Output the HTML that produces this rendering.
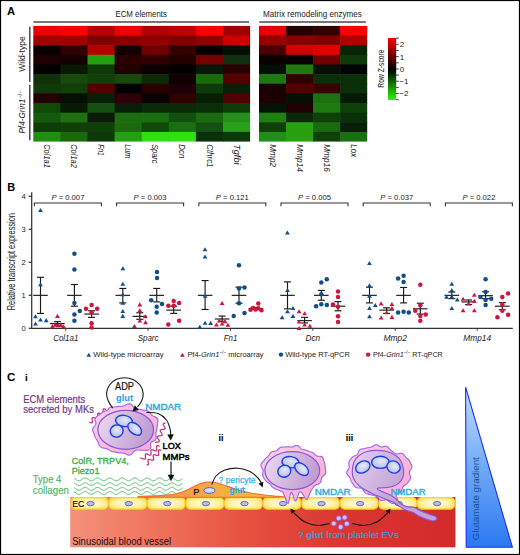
<!DOCTYPE html><html><head><meta charset="utf-8"><style>
html,body{margin:0;padding:0;background:#fff;overflow:hidden;}
svg{display:block;font-family:"Liberation Sans", sans-serif;}
</style></head><body>
<svg width="520" height="555" viewBox="0 0 520 555">
<defs><linearGradient id="cbar" x1="0" y1="0" x2="0" y2="1"><stop offset="0" stop-color="#ff0000"/><stop offset="0.5" stop-color="#000000"/><stop offset="1" stop-color="#2cf50c"/></linearGradient></defs>
<rect x="0" y="0" width="520" height="555" fill="#fff"/>
<rect x="33.30" y="25.90" width="27.70" height="10.24" fill="#ee0000"/>
<rect x="60.40" y="25.90" width="27.70" height="10.24" fill="#ff0000"/>
<rect x="87.50" y="25.90" width="27.70" height="10.24" fill="#b80000"/>
<rect x="114.60" y="25.90" width="27.70" height="10.24" fill="#f00000"/>
<rect x="141.70" y="25.90" width="27.70" height="10.24" fill="#b00000"/>
<rect x="168.80" y="25.90" width="27.70" height="10.24" fill="#c00000"/>
<rect x="195.90" y="25.90" width="27.70" height="10.24" fill="#ff0000"/>
<rect x="223.00" y="25.90" width="27.10" height="10.24" fill="#a00000"/>
<rect x="259.00" y="25.90" width="27.65" height="10.24" fill="#e80000"/>
<rect x="286.05" y="25.90" width="27.65" height="10.24" fill="#250000"/>
<rect x="313.10" y="25.90" width="27.65" height="10.24" fill="#350000"/>
<rect x="340.15" y="25.90" width="27.05" height="10.24" fill="#ff0000"/>
<rect x="33.30" y="35.54" width="27.70" height="10.24" fill="#a00000"/>
<rect x="60.40" y="35.54" width="27.70" height="10.24" fill="#a00000"/>
<rect x="87.50" y="35.54" width="27.70" height="10.24" fill="#800000"/>
<rect x="114.60" y="35.54" width="27.70" height="10.24" fill="#8a0000"/>
<rect x="141.70" y="35.54" width="27.70" height="10.24" fill="#900000"/>
<rect x="168.80" y="35.54" width="27.70" height="10.24" fill="#800000"/>
<rect x="195.90" y="35.54" width="27.70" height="10.24" fill="#900000"/>
<rect x="223.00" y="35.54" width="27.10" height="10.24" fill="#cc0000"/>
<rect x="259.00" y="35.54" width="27.65" height="10.24" fill="#950000"/>
<rect x="286.05" y="35.54" width="27.65" height="10.24" fill="#8a0000"/>
<rect x="313.10" y="35.54" width="27.65" height="10.24" fill="#850000"/>
<rect x="340.15" y="35.54" width="27.05" height="10.24" fill="#b00000"/>
<rect x="33.30" y="45.18" width="27.70" height="10.24" fill="#0a0000"/>
<rect x="60.40" y="45.18" width="27.70" height="10.24" fill="#300000"/>
<rect x="87.50" y="45.18" width="27.70" height="10.24" fill="#b50000"/>
<rect x="114.60" y="45.18" width="27.70" height="10.24" fill="#120000"/>
<rect x="141.70" y="45.18" width="27.70" height="10.24" fill="#700000"/>
<rect x="168.80" y="45.18" width="27.70" height="10.24" fill="#350000"/>
<rect x="195.90" y="45.18" width="27.70" height="10.24" fill="#080000"/>
<rect x="223.00" y="45.18" width="27.10" height="10.24" fill="#041004"/>
<rect x="259.00" y="45.18" width="27.65" height="10.24" fill="#4a0000"/>
<rect x="286.05" y="45.18" width="27.65" height="10.24" fill="#d00000"/>
<rect x="313.10" y="45.18" width="27.65" height="10.24" fill="#e00000"/>
<rect x="340.15" y="45.18" width="27.05" height="10.24" fill="#082508"/>
<rect x="33.30" y="54.82" width="27.70" height="10.24" fill="#1e0000"/>
<rect x="60.40" y="54.82" width="27.70" height="10.24" fill="#150000"/>
<rect x="87.50" y="54.82" width="27.70" height="10.24" fill="#22a010"/>
<rect x="114.60" y="54.82" width="27.70" height="10.24" fill="#2a0000"/>
<rect x="141.70" y="54.82" width="27.70" height="10.24" fill="#300000"/>
<rect x="168.80" y="54.82" width="27.70" height="10.24" fill="#250000"/>
<rect x="195.90" y="54.82" width="27.70" height="10.24" fill="#750000"/>
<rect x="223.00" y="54.82" width="27.10" height="10.24" fill="#103010"/>
<rect x="259.00" y="54.82" width="27.65" height="10.24" fill="#0a0000"/>
<rect x="286.05" y="54.82" width="27.65" height="10.24" fill="#080000"/>
<rect x="313.10" y="54.82" width="27.65" height="10.24" fill="#700000"/>
<rect x="340.15" y="54.82" width="27.05" height="10.24" fill="#0e3a0a"/>
<rect x="33.30" y="64.46" width="27.70" height="10.24" fill="#050000"/>
<rect x="60.40" y="64.46" width="27.70" height="10.24" fill="#0a1a00"/>
<rect x="87.50" y="64.46" width="27.70" height="10.24" fill="#0e3a08"/>
<rect x="114.60" y="64.46" width="27.70" height="10.24" fill="#200000"/>
<rect x="141.70" y="64.46" width="27.70" height="10.24" fill="#0a0000"/>
<rect x="168.80" y="64.46" width="27.70" height="10.24" fill="#050000"/>
<rect x="195.90" y="64.46" width="27.70" height="10.24" fill="#081808"/>
<rect x="223.00" y="64.46" width="27.10" height="10.24" fill="#2a0000"/>
<rect x="259.00" y="64.46" width="27.65" height="10.24" fill="#041004"/>
<rect x="286.05" y="64.46" width="27.65" height="10.24" fill="#1e7a10"/>
<rect x="313.10" y="64.46" width="27.65" height="10.24" fill="#041004"/>
<rect x="340.15" y="64.46" width="27.05" height="10.24" fill="#000404"/>
<rect x="33.30" y="74.10" width="27.70" height="10.24" fill="#0f3008"/>
<rect x="60.40" y="74.10" width="27.70" height="10.24" fill="#164a0c"/>
<rect x="87.50" y="74.10" width="27.70" height="10.24" fill="#104008"/>
<rect x="114.60" y="74.10" width="27.70" height="10.24" fill="#144a0c"/>
<rect x="141.70" y="74.10" width="27.70" height="10.24" fill="#0c2a08"/>
<rect x="168.80" y="74.10" width="27.70" height="10.24" fill="#100000"/>
<rect x="195.90" y="74.10" width="27.70" height="10.24" fill="#1a6a0a"/>
<rect x="223.00" y="74.10" width="27.10" height="10.24" fill="#550000"/>
<rect x="259.00" y="74.10" width="27.65" height="10.24" fill="#1e7810"/>
<rect x="286.05" y="74.10" width="27.65" height="10.24" fill="#300000"/>
<rect x="313.10" y="74.10" width="27.65" height="10.24" fill="#0a300a"/>
<rect x="340.15" y="74.10" width="27.05" height="10.24" fill="#0a300a"/>
<rect x="33.30" y="83.74" width="27.70" height="10.24" fill="#0f3a08"/>
<rect x="60.40" y="83.74" width="27.70" height="10.24" fill="#123e08"/>
<rect x="87.50" y="83.74" width="27.70" height="10.24" fill="#550000"/>
<rect x="114.60" y="83.74" width="27.70" height="10.24" fill="#000000"/>
<rect x="141.70" y="83.74" width="27.70" height="10.24" fill="#2a0000"/>
<rect x="168.80" y="83.74" width="27.70" height="10.24" fill="#1e0008"/>
<rect x="195.90" y="83.74" width="27.70" height="10.24" fill="#0c3a08"/>
<rect x="223.00" y="83.74" width="27.10" height="10.24" fill="#082008"/>
<rect x="259.00" y="83.74" width="27.65" height="10.24" fill="#1a0000"/>
<rect x="286.05" y="83.74" width="27.65" height="10.24" fill="#500000"/>
<rect x="313.10" y="83.74" width="27.65" height="10.24" fill="#3a0000"/>
<rect x="340.15" y="83.74" width="27.05" height="10.24" fill="#0a300a"/>
<rect x="33.30" y="93.38" width="27.70" height="10.24" fill="#250000"/>
<rect x="60.40" y="93.38" width="27.70" height="10.24" fill="#041004"/>
<rect x="87.50" y="93.38" width="27.70" height="10.24" fill="#082008"/>
<rect x="114.60" y="93.38" width="27.70" height="10.24" fill="#300008"/>
<rect x="141.70" y="93.38" width="27.70" height="10.24" fill="#0a0000"/>
<rect x="168.80" y="93.38" width="27.70" height="10.24" fill="#300000"/>
<rect x="195.90" y="93.38" width="27.70" height="10.24" fill="#061e04"/>
<rect x="223.00" y="93.38" width="27.10" height="10.24" fill="#500000"/>
<rect x="259.00" y="93.38" width="27.65" height="10.24" fill="#1e0000"/>
<rect x="286.05" y="93.38" width="27.65" height="10.24" fill="#041004"/>
<rect x="313.10" y="93.38" width="27.65" height="10.24" fill="#1e7010"/>
<rect x="340.15" y="93.38" width="27.05" height="10.24" fill="#061a04"/>
<rect x="33.30" y="103.02" width="27.70" height="10.24" fill="#104a08"/>
<rect x="60.40" y="103.02" width="27.70" height="10.24" fill="#081a04"/>
<rect x="87.50" y="103.02" width="27.70" height="10.24" fill="#145010"/>
<rect x="114.60" y="103.02" width="27.70" height="10.24" fill="#082008"/>
<rect x="141.70" y="103.02" width="27.70" height="10.24" fill="#0a2a08"/>
<rect x="168.80" y="103.02" width="27.70" height="10.24" fill="#0a2a08"/>
<rect x="195.90" y="103.02" width="27.70" height="10.24" fill="#0a2e08"/>
<rect x="223.00" y="103.02" width="27.10" height="10.24" fill="#0e3e08"/>
<rect x="259.00" y="103.02" width="27.65" height="10.24" fill="#041404"/>
<rect x="286.05" y="103.02" width="27.65" height="10.24" fill="#1e0000"/>
<rect x="313.10" y="103.02" width="27.65" height="10.24" fill="#1e7a10"/>
<rect x="340.15" y="103.02" width="27.05" height="10.24" fill="#0e4008"/>
<rect x="33.30" y="112.66" width="27.70" height="10.24" fill="#145a0c"/>
<rect x="60.40" y="112.66" width="27.70" height="10.24" fill="#1e7010"/>
<rect x="87.50" y="112.66" width="27.70" height="10.24" fill="#0a1a04"/>
<rect x="114.60" y="112.66" width="27.70" height="10.24" fill="#1c6c10"/>
<rect x="141.70" y="112.66" width="27.70" height="10.24" fill="#1a7010"/>
<rect x="168.80" y="112.66" width="27.70" height="10.24" fill="#125010"/>
<rect x="195.90" y="112.66" width="27.70" height="10.24" fill="#1a6a10"/>
<rect x="223.00" y="112.66" width="27.10" height="10.24" fill="#22901a"/>
<rect x="259.00" y="112.66" width="27.65" height="10.24" fill="#1e8010"/>
<rect x="286.05" y="112.66" width="27.65" height="10.24" fill="#0a280a"/>
<rect x="313.10" y="112.66" width="27.65" height="10.24" fill="#0e4008"/>
<rect x="340.15" y="112.66" width="27.05" height="10.24" fill="#0a300a"/>
<rect x="33.30" y="122.30" width="27.70" height="10.24" fill="#0e3e08"/>
<rect x="60.40" y="122.30" width="27.70" height="10.24" fill="#104008"/>
<rect x="87.50" y="122.30" width="27.70" height="10.24" fill="#0f4008"/>
<rect x="114.60" y="122.30" width="27.70" height="10.24" fill="#1c6a10"/>
<rect x="141.70" y="122.30" width="27.70" height="10.24" fill="#104a08"/>
<rect x="168.80" y="122.30" width="27.70" height="10.24" fill="#1a7010"/>
<rect x="195.90" y="122.30" width="27.70" height="10.24" fill="#145010"/>
<rect x="223.00" y="122.30" width="27.10" height="10.24" fill="#28a018"/>
<rect x="259.00" y="122.30" width="27.65" height="10.24" fill="#0e4008"/>
<rect x="286.05" y="122.30" width="27.65" height="10.24" fill="#28a010"/>
<rect x="313.10" y="122.30" width="27.65" height="10.24" fill="#1a6a10"/>
<rect x="340.15" y="122.30" width="27.05" height="10.24" fill="#082008"/>
<rect x="33.30" y="131.94" width="27.70" height="9.64" fill="#209010"/>
<rect x="60.40" y="131.94" width="27.70" height="9.64" fill="#1a6a0c"/>
<rect x="87.50" y="131.94" width="27.70" height="9.64" fill="#0e380a"/>
<rect x="114.60" y="131.94" width="27.70" height="9.64" fill="#22a010"/>
<rect x="141.70" y="131.94" width="27.70" height="9.64" fill="#30e010"/>
<rect x="168.80" y="131.94" width="27.70" height="9.64" fill="#30e010"/>
<rect x="195.90" y="131.94" width="27.70" height="9.64" fill="#0a300a"/>
<rect x="223.00" y="131.94" width="27.10" height="9.64" fill="#0a3a08"/>
<rect x="259.00" y="131.94" width="27.65" height="9.64" fill="#20901a"/>
<rect x="286.05" y="131.94" width="27.65" height="9.64" fill="#28a010"/>
<rect x="313.10" y="131.94" width="27.65" height="9.64" fill="#0e4008"/>
<rect x="340.15" y="131.94" width="27.05" height="9.64" fill="#1a7010"/>
<g stroke="#4a4a4a" stroke-width="1.5">
<line x1="33.5" y1="22.1" x2="249" y2="22.1"/>
<line x1="259.2" y1="22.1" x2="365.8" y2="22.1"/>
<line x1="29.8" y1="26.8" x2="29.8" y2="81.9"/>
<line x1="29.8" y1="84.8" x2="29.8" y2="140.2"/>
</g>
<text x="115.4" y="16.9" font-size="8.2" fill="#222" textLength="51.5" lengthAdjust="spacingAndGlyphs">ECM elements</text>
<text x="263.1" y="17.3" font-size="8.2" fill="#222" textLength="98.7" lengthAdjust="spacingAndGlyphs">Matrix remodeling enzymes</text>
<text transform="translate(25.2,71.7) rotate(-90)" font-size="8.6" fill="#222" textLength="35.3" lengthAdjust="spacingAndGlyphs">Wild-type</text>
<text transform="translate(25.2,133.6) rotate(-90)" font-size="8.6" fill="#222"><tspan font-style="italic" textLength="35" lengthAdjust="spacingAndGlyphs">Pf4-Grin1</tspan><tspan font-size="5.5" dy="-3.4">−/−</tspan></text>
<text transform="translate(43.95,144.2) rotate(90)" font-size="8.4" font-style="italic" fill="#222" textLength="23.7" lengthAdjust="spacingAndGlyphs">Col1a1</text>
<text transform="translate(71.05,144.2) rotate(90)" font-size="8.4" font-style="italic" fill="#222" textLength="23.7" lengthAdjust="spacingAndGlyphs">Col1a2</text>
<text transform="translate(98.15,144.2) rotate(90)" font-size="8.4" font-style="italic" fill="#222" textLength="11.7" lengthAdjust="spacingAndGlyphs">Fn1</text>
<text transform="translate(125.25,144.2) rotate(90)" font-size="8.4" font-style="italic" fill="#222" textLength="14.1" lengthAdjust="spacingAndGlyphs">Lum</text>
<text transform="translate(152.35,144.2) rotate(90)" font-size="8.4" font-style="italic" fill="#222" textLength="19.3" lengthAdjust="spacingAndGlyphs">Sparc</text>
<text transform="translate(179.45,144.2) rotate(90)" font-size="8.4" font-style="italic" fill="#222" textLength="14.1" lengthAdjust="spacingAndGlyphs">Dcn</text>
<text transform="translate(206.55,144.2) rotate(90)" font-size="8.4" font-style="italic" fill="#222" textLength="23.3" lengthAdjust="spacingAndGlyphs">Cthrc1</text>
<text transform="translate(233.65,144.2) rotate(90)" font-size="8.4" font-style="italic" fill="#222" textLength="20.3" lengthAdjust="spacingAndGlyphs">Tgfbi</text>
<text transform="translate(269.62,144.2) rotate(90)" font-size="8.4" font-style="italic" fill="#222" textLength="23.0" lengthAdjust="spacingAndGlyphs">Mmp2</text>
<text transform="translate(296.68,144.2) rotate(90)" font-size="8.4" font-style="italic" fill="#222" textLength="27.7" lengthAdjust="spacingAndGlyphs">Mmp14</text>
<text transform="translate(323.73,144.2) rotate(90)" font-size="8.4" font-style="italic" fill="#222" textLength="27.7" lengthAdjust="spacingAndGlyphs">Mmp16</text>
<text transform="translate(350.77,144.2) rotate(90)" font-size="8.4" font-style="italic" fill="#222" textLength="13.1" lengthAdjust="spacingAndGlyphs">Lox</text>
<rect x="388" y="38" width="8.2" height="62" fill="url(#cbar)"/>
<g stroke="#333" stroke-width="0.9">
<line x1="396" y1="38.20" x2="398.8" y2="38.20"/>
<line x1="396" y1="44.35" x2="398.8" y2="44.35"/>
<line x1="396" y1="50.50" x2="398.8" y2="50.50"/>
<line x1="396" y1="56.65" x2="398.8" y2="56.65"/>
<line x1="396" y1="62.80" x2="398.8" y2="62.80"/>
<line x1="396" y1="68.95" x2="398.8" y2="68.95"/>
<line x1="396" y1="75.10" x2="398.8" y2="75.10"/>
<line x1="396" y1="81.25" x2="398.8" y2="81.25"/>
<line x1="396" y1="87.40" x2="398.8" y2="87.40"/>
<line x1="396" y1="93.55" x2="398.8" y2="93.55"/>
<line x1="396" y1="99.70" x2="398.8" y2="99.70"/>
</g>
<text x="399.8" y="47.3" font-size="8" fill="#222">2</text>
<text x="399.8" y="59.6" font-size="8" fill="#222">1</text>
<text x="399.8" y="71.6" font-size="8" fill="#222">0</text>
<text x="399.4" y="84.1" font-size="8" fill="#222">−1</text>
<text x="399.4" y="96.4" font-size="8" fill="#222">−2</text>
<text transform="translate(384.4,87.7) rotate(-90)" font-size="8.4" fill="#222" textLength="38.2" lengthAdjust="spacingAndGlyphs">Row Z-score</text>
<text x="6.9" y="14.9" font-size="11" font-weight="bold" fill="#000" textLength="8.1" lengthAdjust="spacingAndGlyphs">A</text>
<text x="7.3" y="191.2" font-size="11" font-weight="bold" fill="#000">B</text>
<text x="6.9" y="380.5" font-size="11.6" font-weight="bold" fill="#000">C</text>
<g stroke="#333" stroke-width="1.25" fill="none">
<line x1="31.7" y1="192.3" x2="31.7" y2="329"/>
<line x1="31.1" y1="328.4" x2="512.8" y2="328.4"/>
<line x1="28.7" y1="328.30" x2="31.7" y2="328.30"/>
<line x1="28.7" y1="295.30" x2="31.7" y2="295.30"/>
<line x1="28.7" y1="262.30" x2="31.7" y2="262.30"/>
<line x1="28.7" y1="229.30" x2="31.7" y2="229.30"/>
<line x1="28.7" y1="196.30" x2="31.7" y2="196.30"/>
</g>
<text x="25.8" y="330.90" font-size="7.6" fill="#222" text-anchor="end">0</text>
<text x="25.8" y="297.90" font-size="7.6" fill="#222" text-anchor="end">1</text>
<text x="25.8" y="264.90" font-size="7.6" fill="#222" text-anchor="end">2</text>
<text x="25.8" y="231.90" font-size="7.6" fill="#222" text-anchor="end">3</text>
<text x="25.8" y="198.90" font-size="7.6" fill="#222" text-anchor="end">4</text>
<text transform="translate(14.9,310.3) rotate(-90)" font-size="10.4" fill="#222" textLength="97.3" lengthAdjust="spacingAndGlyphs">Relative transcript expression</text>
<line x1="65.8" y1="328.4" x2="65.8" y2="330.8" stroke="#333" stroke-width="0.9"/>
<path d="M34.4,206.3 V203 H101.4 V206.3" fill="none" stroke="#333" stroke-width="1.1"/>
<text x="51.4" y="200" font-size="8" fill="#222" textLength="33" lengthAdjust="spacingAndGlyphs"><tspan font-style="italic">P</tspan> = 0.007</text>
<text x="53.2" y="341" font-size="8.2" font-style="italic" fill="#222" textLength="25.2" lengthAdjust="spacingAndGlyphs">Col1a1</text>
<g stroke="#1a1a1a" stroke-width="1.15" fill="none"><line x1="33.2" y1="295.35" x2="47.8" y2="295.35"/><line x1="40.5" y1="277.28" x2="40.5" y2="313.42"/><line x1="37.0" y1="277.28" x2="44.0" y2="277.28"/><line x1="37.0" y1="313.42" x2="44.0" y2="313.42"/></g>
<g stroke="#1a1a1a" stroke-width="1.15" fill="none"><line x1="50.1" y1="323.60" x2="64.7" y2="323.60"/><line x1="57.4" y1="321.63" x2="57.4" y2="325.24"/><line x1="53.9" y1="321.63" x2="60.9" y2="321.63"/><line x1="53.9" y1="325.24" x2="60.9" y2="325.24"/></g>
<g stroke="#1a1a1a" stroke-width="1.15" fill="none"><line x1="67.1" y1="295.35" x2="81.7" y2="295.35"/><line x1="74.4" y1="284.51" x2="74.4" y2="306.19"/><line x1="70.9" y1="284.51" x2="77.9" y2="284.51"/><line x1="70.9" y1="306.19" x2="77.9" y2="306.19"/></g>
<g stroke="#1a1a1a" stroke-width="1.15" fill="none"><line x1="84.3" y1="314.07" x2="98.9" y2="314.07"/><line x1="91.6" y1="310.79" x2="91.6" y2="317.36"/><line x1="88.1" y1="310.79" x2="95.1" y2="310.79"/><line x1="88.1" y1="317.36" x2="95.1" y2="317.36"/></g>
<path d="M40.50,208.07 L42.90,212.12 L38.10,212.12Z" fill="#134e8c"/>
<path d="M40.50,282.31 L42.90,286.36 L38.10,286.36Z" fill="#134e8c"/>
<path d="M35.50,314.17 L37.90,318.22 L33.10,318.22Z" fill="#134e8c"/>
<path d="M40.50,317.46 L42.90,321.51 L38.10,321.51Z" fill="#134e8c"/>
<path d="M46.20,318.12 L48.60,322.17 L43.80,322.17Z" fill="#134e8c"/>
<path d="M35.50,321.40 L37.90,325.45 L33.10,325.45Z" fill="#134e8c"/>
<path d="M57.40,313.85 L59.80,317.90 L55.00,317.90Z" fill="#d0143c"/>
<path d="M52.40,324.09 L54.80,328.14 L50.00,328.14Z" fill="#d0143c"/>
<path d="M55.20,322.58 L57.60,326.63 L52.80,326.63Z" fill="#d0143c"/>
<path d="M58.10,323.31 L60.50,327.36 L55.70,327.36Z" fill="#d0143c"/>
<path d="M61.00,322.91 L63.40,326.96 L58.60,326.96Z" fill="#d0143c"/>
<path d="M63.50,324.29 L65.90,328.34 L61.10,328.34Z" fill="#d0143c"/>
<circle cx="74.40" cy="253.63" r="2.25" fill="#134e8c"/>
<circle cx="74.40" cy="269.40" r="2.25" fill="#134e8c"/>
<circle cx="74.40" cy="302.91" r="2.25" fill="#134e8c"/>
<circle cx="79.80" cy="311.12" r="2.25" fill="#134e8c"/>
<circle cx="74.40" cy="314.40" r="2.25" fill="#134e8c"/>
<circle cx="74.40" cy="320.64" r="2.25" fill="#134e8c"/>
<circle cx="91.60" cy="304.88" r="2.25" fill="#d0143c"/>
<circle cx="86.00" cy="308.82" r="2.25" fill="#d0143c"/>
<circle cx="97.10" cy="308.82" r="2.25" fill="#d0143c"/>
<circle cx="91.60" cy="312.43" r="2.25" fill="#d0143c"/>
<circle cx="91.60" cy="323.27" r="2.25" fill="#d0143c"/>
<circle cx="91.60" cy="327.54" r="2.25" fill="#d0143c"/>
<line x1="148.1" y1="328.4" x2="148.1" y2="330.8" stroke="#333" stroke-width="0.9"/>
<path d="M116.6,206.3 V203 H183.6 V206.3" fill="none" stroke="#333" stroke-width="1.1"/>
<text x="133.6" y="200" font-size="8" fill="#222" textLength="33" lengthAdjust="spacingAndGlyphs"><tspan font-style="italic">P</tspan> = 0.003</text>
<text x="137.7" y="341" font-size="8.2" font-style="italic" fill="#222" textLength="20.8" lengthAdjust="spacingAndGlyphs">Sparc</text>
<g stroke="#1a1a1a" stroke-width="1.15" fill="none"><line x1="115.5" y1="295.35" x2="130.1" y2="295.35"/><line x1="122.8" y1="288.45" x2="122.8" y2="302.91"/><line x1="119.3" y1="288.45" x2="126.3" y2="288.45"/><line x1="119.3" y1="302.91" x2="126.3" y2="302.91"/></g>
<g stroke="#1a1a1a" stroke-width="1.15" fill="none"><line x1="132.5" y1="316.37" x2="147.1" y2="316.37"/><line x1="139.8" y1="312.76" x2="139.8" y2="319.33"/><line x1="136.3" y1="312.76" x2="143.3" y2="312.76"/><line x1="136.3" y1="319.33" x2="143.3" y2="319.33"/></g>
<g stroke="#1a1a1a" stroke-width="1.15" fill="none"><line x1="149.4" y1="295.35" x2="164.0" y2="295.35"/><line x1="156.7" y1="288.45" x2="156.7" y2="301.92"/><line x1="153.2" y1="288.45" x2="160.2" y2="288.45"/><line x1="153.2" y1="301.92" x2="160.2" y2="301.92"/></g>
<g stroke="#1a1a1a" stroke-width="1.15" fill="none"><line x1="166.4" y1="310.13" x2="181.0" y2="310.13"/><line x1="173.7" y1="306.19" x2="173.7" y2="313.42"/><line x1="170.2" y1="306.19" x2="177.2" y2="306.19"/><line x1="170.2" y1="313.42" x2="177.2" y2="313.42"/></g>
<path d="M122.90,266.21 L125.30,270.26 L120.50,270.26Z" fill="#134e8c"/>
<path d="M122.80,281.65 L125.20,285.70 L120.40,285.70Z" fill="#134e8c"/>
<path d="M122.80,292.16 L125.20,296.21 L120.40,296.21Z" fill="#134e8c"/>
<path d="M122.80,300.71 L125.20,304.76 L120.40,304.76Z" fill="#134e8c"/>
<path d="M122.80,308.92 L125.20,312.97 L120.40,312.97Z" fill="#134e8c"/>
<path d="M122.80,313.85 L125.20,317.90 L120.40,317.90Z" fill="#134e8c"/>
<path d="M139.80,302.35 L142.20,306.40 L137.40,306.40Z" fill="#d0143c"/>
<path d="M139.80,308.26 L142.20,312.31 L137.40,312.31Z" fill="#d0143c"/>
<path d="M145.20,314.17 L147.60,318.22 L142.80,318.22Z" fill="#d0143c"/>
<path d="M139.80,318.44 L142.20,322.49 L137.40,322.49Z" fill="#d0143c"/>
<path d="M145.50,320.09 L147.90,324.14 L143.10,324.14Z" fill="#d0143c"/>
<path d="M134.40,324.03 L136.80,328.08 L132.00,328.08Z" fill="#d0143c"/>
<circle cx="157.00" cy="272.03" r="2.25" fill="#134e8c"/>
<circle cx="157.00" cy="277.94" r="2.25" fill="#134e8c"/>
<circle cx="151.20" cy="300.28" r="2.25" fill="#134e8c"/>
<circle cx="162.00" cy="303.89" r="2.25" fill="#134e8c"/>
<circle cx="156.70" cy="306.85" r="2.25" fill="#134e8c"/>
<circle cx="156.70" cy="312.43" r="2.25" fill="#134e8c"/>
<circle cx="173.70" cy="300.93" r="2.25" fill="#d0143c"/>
<circle cx="168.30" cy="305.86" r="2.25" fill="#d0143c"/>
<circle cx="173.70" cy="305.86" r="2.25" fill="#d0143c"/>
<circle cx="179.10" cy="302.91" r="2.25" fill="#d0143c"/>
<circle cx="179.10" cy="320.64" r="2.25" fill="#d0143c"/>
<circle cx="168.30" cy="324.59" r="2.25" fill="#d0143c"/>
<line x1="230.5" y1="328.4" x2="230.5" y2="330.8" stroke="#333" stroke-width="0.9"/>
<path d="M198.8,206.3 V203 H265.8 V206.3" fill="none" stroke="#333" stroke-width="1.1"/>
<text x="215.8" y="200" font-size="8" fill="#222" textLength="33" lengthAdjust="spacingAndGlyphs"><tspan font-style="italic">P</tspan> = 0.121</text>
<text x="223.8" y="341" font-size="8.2" font-style="italic" fill="#222" textLength="13.5" lengthAdjust="spacingAndGlyphs">Fn1</text>
<g stroke="#1a1a1a" stroke-width="1.15" fill="none"><line x1="197.8" y1="295.35" x2="212.4" y2="295.35"/><line x1="205.1" y1="280.57" x2="205.1" y2="309.48"/><line x1="201.6" y1="280.57" x2="208.6" y2="280.57"/><line x1="201.6" y1="309.48" x2="208.6" y2="309.48"/></g>
<g stroke="#1a1a1a" stroke-width="1.15" fill="none"><line x1="214.8" y1="319.00" x2="229.4" y2="319.00"/><line x1="222.1" y1="316.05" x2="222.1" y2="321.30"/><line x1="218.6" y1="316.05" x2="225.6" y2="316.05"/><line x1="218.6" y1="321.30" x2="225.6" y2="321.30"/></g>
<g stroke="#1a1a1a" stroke-width="1.15" fill="none"><line x1="231.7" y1="295.35" x2="246.3" y2="295.35"/><line x1="239.0" y1="287.14" x2="239.0" y2="303.23"/><line x1="235.5" y1="287.14" x2="242.5" y2="287.14"/><line x1="235.5" y1="303.23" x2="242.5" y2="303.23"/></g>
<g stroke="#1a1a1a" stroke-width="1.15" fill="none"><line x1="248.7" y1="308.49" x2="263.3" y2="308.49"/><line x1="256.0" y1="307.50" x2="256.0" y2="309.48"/><line x1="252.5" y1="307.50" x2="259.5" y2="307.50"/><line x1="252.5" y1="309.48" x2="259.5" y2="309.48"/></g>
<path d="M205.00,247.16 L207.40,251.21 L202.60,251.21Z" fill="#134e8c"/>
<path d="M205.00,254.39 L207.40,258.44 L202.60,258.44Z" fill="#134e8c"/>
<path d="M205.10,293.81 L207.50,297.86 L202.70,297.86Z" fill="#134e8c"/>
<path d="M205.10,320.74 L207.50,324.79 L202.70,324.79Z" fill="#134e8c"/>
<path d="M210.60,321.07 L213.00,325.12 L208.20,325.12Z" fill="#134e8c"/>
<path d="M199.80,324.69 L202.20,328.74 L197.40,328.74Z" fill="#134e8c"/>
<path d="M222.10,301.03 L224.50,305.08 L219.70,305.08Z" fill="#d0143c"/>
<path d="M219.20,318.44 L221.60,322.49 L216.80,322.49Z" fill="#d0143c"/>
<path d="M225.00,319.10 L227.40,323.15 L222.60,323.15Z" fill="#d0143c"/>
<path d="M216.40,322.39 L218.80,326.44 L214.00,326.44Z" fill="#d0143c"/>
<path d="M222.10,321.40 L224.50,325.45 L219.70,325.45Z" fill="#d0143c"/>
<path d="M227.90,322.71 L230.30,326.76 L225.50,326.76Z" fill="#d0143c"/>
<circle cx="239.00" cy="265.13" r="2.25" fill="#134e8c"/>
<circle cx="239.00" cy="288.45" r="2.25" fill="#134e8c"/>
<circle cx="244.50" cy="287.47" r="2.25" fill="#134e8c"/>
<circle cx="239.00" cy="303.23" r="2.25" fill="#134e8c"/>
<circle cx="244.50" cy="313.09" r="2.25" fill="#134e8c"/>
<circle cx="233.70" cy="316.05" r="2.25" fill="#134e8c"/>
<circle cx="258.30" cy="303.50" r="2.25" fill="#d0143c"/>
<circle cx="250.50" cy="309.71" r="2.25" fill="#d0143c"/>
<circle cx="253.00" cy="308.00" r="2.25" fill="#d0143c"/>
<circle cx="255.60" cy="309.51" r="2.25" fill="#d0143c"/>
<circle cx="258.30" cy="308.19" r="2.25" fill="#d0143c"/>
<circle cx="261.40" cy="310.20" r="2.25" fill="#d0143c"/>
<line x1="312.8" y1="328.4" x2="312.8" y2="330.8" stroke="#333" stroke-width="0.9"/>
<path d="M281.0,206.3 V203 H348.0 V206.3" fill="none" stroke="#333" stroke-width="1.1"/>
<text x="298.0" y="200" font-size="8" fill="#222" textLength="33" lengthAdjust="spacingAndGlyphs"><tspan font-style="italic">P</tspan> = 0.005</text>
<text x="305.5" y="341" font-size="8.2" font-style="italic" fill="#222" textLength="14.6" lengthAdjust="spacingAndGlyphs">Dcn</text>
<g stroke="#1a1a1a" stroke-width="1.15" fill="none"><line x1="280.2" y1="295.35" x2="294.8" y2="295.35"/><line x1="287.5" y1="281.88" x2="287.5" y2="308.82"/><line x1="284.0" y1="281.88" x2="291.0" y2="281.88"/><line x1="284.0" y1="308.82" x2="291.0" y2="308.82"/></g>
<g stroke="#1a1a1a" stroke-width="1.15" fill="none"><line x1="297.3" y1="320.64" x2="311.9" y2="320.64"/><line x1="304.6" y1="317.36" x2="304.6" y2="322.94"/><line x1="301.1" y1="317.36" x2="308.1" y2="317.36"/><line x1="301.1" y1="322.94" x2="308.1" y2="322.94"/></g>
<g stroke="#1a1a1a" stroke-width="1.15" fill="none"><line x1="314.0" y1="295.35" x2="328.6" y2="295.35"/><line x1="321.3" y1="290.42" x2="321.3" y2="300.28"/><line x1="317.8" y1="290.42" x2="324.8" y2="290.42"/><line x1="317.8" y1="300.28" x2="324.8" y2="300.28"/></g>
<g stroke="#1a1a1a" stroke-width="1.15" fill="none"><line x1="330.7" y1="306.19" x2="345.3" y2="306.19"/><line x1="338.0" y1="301.59" x2="338.0" y2="310.79"/><line x1="334.5" y1="301.59" x2="341.5" y2="301.59"/><line x1="334.5" y1="310.79" x2="341.5" y2="310.79"/></g>
<path d="M287.40,230.41 L289.80,234.46 L285.00,234.46Z" fill="#134e8c"/>
<path d="M287.50,287.89 L289.90,291.94 L285.10,291.94Z" fill="#134e8c"/>
<path d="M293.00,305.96 L295.40,310.01 L290.60,310.01Z" fill="#134e8c"/>
<path d="M287.50,309.25 L289.90,313.30 L285.10,313.30Z" fill="#134e8c"/>
<path d="M293.00,313.85 L295.40,317.90 L290.60,317.90Z" fill="#134e8c"/>
<path d="M282.10,315.16 L284.50,319.21 L279.70,319.21Z" fill="#134e8c"/>
<path d="M299.10,309.25 L301.50,313.30 L296.70,313.30Z" fill="#d0143c"/>
<path d="M304.60,311.22 L307.00,315.27 L302.20,315.27Z" fill="#d0143c"/>
<path d="M299.10,319.43 L301.50,323.48 L296.70,323.48Z" fill="#d0143c"/>
<path d="M304.60,322.39 L307.00,326.44 L302.20,326.44Z" fill="#d0143c"/>
<path d="M309.90,323.70 L312.30,327.75 L307.50,327.75Z" fill="#d0143c"/>
<path d="M299.10,326.00 L301.50,330.05 L296.70,330.05Z" fill="#d0143c"/>
<circle cx="326.80" cy="279.25" r="2.25" fill="#134e8c"/>
<circle cx="321.30" cy="282.54" r="2.25" fill="#134e8c"/>
<circle cx="321.30" cy="294.36" r="2.25" fill="#134e8c"/>
<circle cx="316.10" cy="306.19" r="2.25" fill="#134e8c"/>
<circle cx="321.30" cy="304.22" r="2.25" fill="#134e8c"/>
<circle cx="326.80" cy="304.88" r="2.25" fill="#134e8c"/>
<circle cx="338.00" cy="291.41" r="2.25" fill="#d0143c"/>
<circle cx="338.00" cy="296.99" r="2.25" fill="#d0143c"/>
<circle cx="333.00" cy="304.55" r="2.25" fill="#d0143c"/>
<circle cx="338.00" cy="306.85" r="2.25" fill="#d0143c"/>
<circle cx="338.00" cy="316.37" r="2.25" fill="#d0143c"/>
<circle cx="338.00" cy="321.96" r="2.25" fill="#d0143c"/>
<line x1="395.2" y1="328.4" x2="395.2" y2="330.8" stroke="#333" stroke-width="0.9"/>
<path d="M363.2,206.3 V203 H430.2 V206.3" fill="none" stroke="#333" stroke-width="1.1"/>
<text x="380.2" y="200" font-size="8" fill="#222" textLength="33" lengthAdjust="spacingAndGlyphs"><tspan font-style="italic">P</tspan> = 0.037</text>
<text x="383.4" y="341" font-size="8.2" font-style="italic" fill="#222" textLength="23.6" lengthAdjust="spacingAndGlyphs">Mmp2</text>
<g stroke="#1a1a1a" stroke-width="1.15" fill="none"><line x1="362.2" y1="295.35" x2="376.8" y2="295.35"/><line x1="369.5" y1="287.14" x2="369.5" y2="302.91"/><line x1="366.0" y1="287.14" x2="373.0" y2="287.14"/><line x1="366.0" y1="302.91" x2="373.0" y2="302.91"/></g>
<g stroke="#1a1a1a" stroke-width="1.15" fill="none"><line x1="379.3" y1="310.13" x2="393.9" y2="310.13"/><line x1="386.6" y1="307.83" x2="386.6" y2="313.42"/><line x1="383.1" y1="307.83" x2="390.1" y2="307.83"/><line x1="383.1" y1="313.42" x2="390.1" y2="313.42"/></g>
<g stroke="#1a1a1a" stroke-width="1.15" fill="none"><line x1="396.3" y1="295.35" x2="410.9" y2="295.35"/><line x1="403.6" y1="287.47" x2="403.6" y2="302.91"/><line x1="400.1" y1="287.47" x2="407.1" y2="287.47"/><line x1="400.1" y1="302.91" x2="407.1" y2="302.91"/></g>
<g stroke="#1a1a1a" stroke-width="1.15" fill="none"><line x1="413.0" y1="308.82" x2="427.6" y2="308.82"/><line x1="420.3" y1="303.23" x2="420.3" y2="314.07"/><line x1="416.8" y1="303.23" x2="423.8" y2="303.23"/><line x1="416.8" y1="314.07" x2="423.8" y2="314.07"/></g>
<path d="M369.40,260.96 L371.80,265.01 L367.00,265.01Z" fill="#134e8c"/>
<path d="M369.50,283.30 L371.90,287.35 L367.10,287.35Z" fill="#134e8c"/>
<path d="M369.50,293.81 L371.90,297.86 L367.10,297.86Z" fill="#134e8c"/>
<path d="M375.30,303.00 L377.70,307.06 L372.90,307.06Z" fill="#134e8c"/>
<path d="M369.50,305.96 L371.90,310.01 L367.10,310.01Z" fill="#134e8c"/>
<path d="M369.50,314.17 L371.90,318.22 L367.10,318.22Z" fill="#134e8c"/>
<path d="M381.10,301.36 L383.50,305.41 L378.70,305.41Z" fill="#d0143c"/>
<path d="M391.90,302.02 L394.30,306.07 L389.50,306.07Z" fill="#d0143c"/>
<path d="M391.90,305.96 L394.30,310.01 L389.50,310.01Z" fill="#d0143c"/>
<path d="M386.60,310.23 L389.00,314.28 L384.20,314.28Z" fill="#d0143c"/>
<path d="M381.10,315.49 L383.50,319.54 L378.70,319.54Z" fill="#d0143c"/>
<path d="M391.90,314.83 L394.30,318.88 L389.50,318.88Z" fill="#d0143c"/>
<circle cx="403.60" cy="275.64" r="2.25" fill="#134e8c"/>
<circle cx="398.10" cy="278.60" r="2.25" fill="#134e8c"/>
<circle cx="403.60" cy="281.88" r="2.25" fill="#134e8c"/>
<circle cx="398.10" cy="312.43" r="2.25" fill="#134e8c"/>
<circle cx="403.60" cy="311.77" r="2.25" fill="#134e8c"/>
<circle cx="408.80" cy="312.43" r="2.25" fill="#134e8c"/>
<circle cx="420.30" cy="284.84" r="2.25" fill="#d0143c"/>
<circle cx="420.30" cy="305.20" r="2.25" fill="#d0143c"/>
<circle cx="415.30" cy="310.79" r="2.25" fill="#d0143c"/>
<circle cx="425.80" cy="314.40" r="2.25" fill="#d0143c"/>
<circle cx="420.30" cy="316.05" r="2.25" fill="#d0143c"/>
<circle cx="420.30" cy="320.64" r="2.25" fill="#d0143c"/>
<line x1="477.2" y1="328.4" x2="477.2" y2="330.8" stroke="#333" stroke-width="0.9"/>
<path d="M445.4,206.3 V203 H512.4 V206.3" fill="none" stroke="#333" stroke-width="1.1"/>
<text x="462.4" y="200" font-size="8" fill="#222" textLength="33" lengthAdjust="spacingAndGlyphs"><tspan font-style="italic">P</tspan> = 0.022</text>
<text x="463.3" y="341" font-size="8.2" font-style="italic" fill="#222" textLength="27.8" lengthAdjust="spacingAndGlyphs">Mmp14</text>
<g stroke="#1a1a1a" stroke-width="1.15" fill="none"><line x1="444.5" y1="295.35" x2="459.1" y2="295.35"/><line x1="451.8" y1="292.06" x2="451.8" y2="298.63"/><line x1="448.3" y1="292.06" x2="455.3" y2="292.06"/><line x1="448.3" y1="298.63" x2="455.3" y2="298.63"/></g>
<g stroke="#1a1a1a" stroke-width="1.15" fill="none"><line x1="461.3" y1="301.92" x2="475.9" y2="301.92"/><line x1="468.6" y1="299.95" x2="468.6" y2="304.55"/><line x1="465.1" y1="299.95" x2="472.1" y2="299.95"/><line x1="465.1" y1="304.55" x2="472.1" y2="304.55"/></g>
<g stroke="#1a1a1a" stroke-width="1.15" fill="none"><line x1="478.3" y1="295.68" x2="492.9" y2="295.68"/><line x1="485.6" y1="291.74" x2="485.6" y2="298.63"/><line x1="482.1" y1="291.74" x2="489.1" y2="291.74"/><line x1="482.1" y1="298.63" x2="489.1" y2="298.63"/></g>
<g stroke="#1a1a1a" stroke-width="1.15" fill="none"><line x1="495.0" y1="306.19" x2="509.6" y2="306.19"/><line x1="502.3" y1="302.58" x2="502.3" y2="309.80"/><line x1="498.8" y1="302.58" x2="505.8" y2="302.58"/><line x1="498.8" y1="309.80" x2="505.8" y2="309.80"/></g>
<path d="M451.80,281.65 L454.20,285.70 L449.40,285.70Z" fill="#134e8c"/>
<path d="M451.80,287.89 L454.20,291.94 L449.40,291.94Z" fill="#134e8c"/>
<path d="M451.80,294.46 L454.20,298.51 L449.40,298.51Z" fill="#134e8c"/>
<path d="M446.50,294.79 L448.90,298.84 L444.10,298.84Z" fill="#134e8c"/>
<path d="M457.30,297.42 L459.70,301.47 L454.90,301.47Z" fill="#134e8c"/>
<path d="M451.80,305.96 L454.20,310.01 L449.40,310.01Z" fill="#134e8c"/>
<path d="M474.30,292.82 L476.70,296.87 L471.90,296.87Z" fill="#d0143c"/>
<path d="M463.10,296.76 L465.50,300.81 L460.70,300.81Z" fill="#d0143c"/>
<path d="M474.30,298.73 L476.70,302.78 L471.90,302.78Z" fill="#d0143c"/>
<path d="M468.60,301.36 L471.00,305.41 L466.20,305.41Z" fill="#d0143c"/>
<path d="M463.10,308.26 L465.50,312.31 L460.70,312.31Z" fill="#d0143c"/>
<path d="M474.30,308.26 L476.70,312.31 L471.90,312.31Z" fill="#d0143c"/>
<circle cx="485.60" cy="279.25" r="2.25" fill="#134e8c"/>
<circle cx="485.60" cy="292.06" r="2.25" fill="#134e8c"/>
<circle cx="480.40" cy="296.99" r="2.25" fill="#134e8c"/>
<circle cx="485.60" cy="299.95" r="2.25" fill="#134e8c"/>
<circle cx="491.20" cy="298.63" r="2.25" fill="#134e8c"/>
<circle cx="485.60" cy="304.88" r="2.25" fill="#134e8c"/>
<circle cx="508.10" cy="293.38" r="2.25" fill="#d0143c"/>
<circle cx="502.30" cy="296.99" r="2.25" fill="#d0143c"/>
<circle cx="502.30" cy="304.22" r="2.25" fill="#d0143c"/>
<circle cx="502.30" cy="310.79" r="2.25" fill="#d0143c"/>
<circle cx="508.10" cy="314.73" r="2.25" fill="#d0143c"/>
<circle cx="497.40" cy="317.36" r="2.25" fill="#d0143c"/>
<path d="M88.80,352.70 L91.10,356.75 L86.50,356.75Z" fill="#134e8c"/>
<text x="93.2" y="357" font-size="8" fill="#222" textLength="70.4" lengthAdjust="spacingAndGlyphs">Wild-type microarray</text>
<path d="M182.40,352.70 L184.70,356.75 L180.10,356.75Z" fill="#d0143c"/>
<text x="187.4" y="357" font-size="8" fill="#222" textLength="76.2" lengthAdjust="spacingAndGlyphs">Pf4-<tspan font-style="italic">Grin1</tspan><tspan font-size="5.2" dy="-3">−/−</tspan><tspan dy="3"> microarray</tspan></text>
<circle cx="281.00" cy="354.60" r="2.2" fill="#134e8c"/>
<text x="285.2" y="357" font-size="8" fill="#222" textLength="64.6" lengthAdjust="spacingAndGlyphs">Wild-type RT-qPCR</text>
<circle cx="368.10" cy="354.60" r="2.2" fill="#d0143c"/>
<text x="373.1" y="357" font-size="8" fill="#222" textLength="69.6" lengthAdjust="spacingAndGlyphs">Pf4-<tspan font-style="italic">Grin1</tspan><tspan font-size="5.2" dy="-3">−/−</tspan><tspan dy="3"> RT-qPCR</tspan></text>
<defs><linearGradient id="vessel" x1="0" y1="0" x2="1" y2="0"><stop offset="0" stop-color="#f4917a"/><stop offset="0.22" stop-color="#ef735c"/><stop offset="0.45" stop-color="#e65240"/><stop offset="0.7" stop-color="#db3631"/><stop offset="1" stop-color="#d32a2b"/></linearGradient><radialGradient id="ecg" cx="0.5" cy="0.5" r="0.62"><stop offset="0" stop-color="#fffbe6"/><stop offset="0.55" stop-color="#fff3b0"/><stop offset="1" stop-color="#fbe155"/></radialGradient><linearGradient id="cyto" x1="0" y1="0" x2="1" y2="0.3"><stop offset="0" stop-color="#ecdcf0"/><stop offset="1" stop-color="#c19dd2"/></linearGradient><linearGradient id="memb" x1="0" y1="0" x2="1" y2="1"><stop offset="0" stop-color="#fbd0e6"/><stop offset="1" stop-color="#f6a9d0"/></linearGradient><linearGradient id="cyto3" gradientUnits="userSpaceOnUse" x1="350" y1="450" x2="405" y2="480"><stop offset="0" stop-color="#e4d0ee"/><stop offset="1" stop-color="#c4a2d6"/></linearGradient><radialGradient id="nuc" cx="0.55" cy="0.4" r="0.7"><stop offset="0" stop-color="#e6eafa"/><stop offset="1" stop-color="#aeb9ea"/></radialGradient><linearGradient id="peri" x1="0" y1="0" x2="1" y2="0"><stop offset="0" stop-color="#ec7462"/><stop offset="0.27" stop-color="#f29c4c"/><stop offset="0.6" stop-color="#f6b040"/><stop offset="1" stop-color="#f8ba3e"/></linearGradient><linearGradient id="glu" x1="0" y1="0" x2="0" y2="1"><stop offset="0" stop-color="#c2deff"/><stop offset="0.5" stop-color="#70aaf6"/><stop offset="1" stop-color="#2a78f2"/></linearGradient></defs>
<text stroke="#000" stroke-width="0.1" x="25.1" y="380.5" font-size="9.6" font-weight="bold" fill="#000">i</text>
<text stroke="#000" stroke-width="0.1" x="218.6" y="441.2" font-size="9" font-weight="bold" fill="#000">ii</text>
<text stroke="#000" stroke-width="0.1" x="345.8" y="440.6" font-size="9" font-weight="bold" fill="#000">iii</text>
<text stroke="#743a8c" stroke-width="0.2" x="23.2" y="402.9" font-size="10.3" fill="#743a8c" textLength="62" lengthAdjust="spacingAndGlyphs">ECM elements</text>
<text stroke="#743a8c" stroke-width="0.2" x="23.2" y="413.2" font-size="10.3" fill="#743a8c" textLength="70.8" lengthAdjust="spacingAndGlyphs">secreted by MKs</text>
<rect x="70.2" y="497" width="385.2" height="50.3" fill="url(#vessel)"/>
<rect x="71.10" y="497.6" width="36.90" height="11.5" rx="4.2" fill="url(#ecg)" stroke="#f8d61c" stroke-width="1.15"/>
<ellipse cx="90.55" cy="503.6" rx="3.7" ry="2.2" fill="#b4bde6" stroke="#4a56b0" stroke-width="0.8"/>
<rect x="109.00" y="497.6" width="37.56" height="11.5" rx="4.2" fill="url(#ecg)" stroke="#f8d61c" stroke-width="1.15"/>
<ellipse cx="128.78" cy="503.6" rx="3.7" ry="2.2" fill="#b4bde6" stroke="#4a56b0" stroke-width="0.8"/>
<rect x="147.56" y="497.6" width="37.56" height="11.5" rx="4.2" fill="url(#ecg)" stroke="#f8d61c" stroke-width="1.15"/>
<ellipse cx="167.34" cy="503.6" rx="3.7" ry="2.2" fill="#b4bde6" stroke="#4a56b0" stroke-width="0.8"/>
<rect x="186.12" y="497.6" width="37.56" height="11.5" rx="4.2" fill="url(#ecg)" stroke="#f8d61c" stroke-width="1.15"/>
<ellipse cx="205.90" cy="503.6" rx="3.7" ry="2.2" fill="#b4bde6" stroke="#4a56b0" stroke-width="0.8"/>
<rect x="224.68" y="497.6" width="37.56" height="11.5" rx="4.2" fill="url(#ecg)" stroke="#f8d61c" stroke-width="1.15"/>
<ellipse cx="244.46" cy="503.6" rx="3.7" ry="2.2" fill="#b4bde6" stroke="#4a56b0" stroke-width="0.8"/>
<rect x="263.24" y="497.6" width="37.56" height="11.5" rx="4.2" fill="url(#ecg)" stroke="#f8d61c" stroke-width="1.15"/>
<ellipse cx="283.02" cy="503.6" rx="3.7" ry="2.2" fill="#b4bde6" stroke="#4a56b0" stroke-width="0.8"/>
<rect x="301.80" y="497.6" width="37.56" height="11.5" rx="4.2" fill="url(#ecg)" stroke="#f8d61c" stroke-width="1.15"/>
<ellipse cx="321.58" cy="503.6" rx="3.7" ry="2.2" fill="#b4bde6" stroke="#4a56b0" stroke-width="0.8"/>
<rect x="340.36" y="497.6" width="37.56" height="11.5" rx="4.2" fill="url(#ecg)" stroke="#f8d61c" stroke-width="1.15"/>
<ellipse cx="360.14" cy="503.6" rx="3.7" ry="2.2" fill="#b4bde6" stroke="#4a56b0" stroke-width="0.8"/>
<rect x="378.92" y="497.6" width="37.56" height="11.5" rx="4.2" fill="url(#ecg)" stroke="#f8d61c" stroke-width="1.15"/>
<ellipse cx="398.70" cy="503.6" rx="3.7" ry="2.2" fill="#b4bde6" stroke="#4a56b0" stroke-width="0.8"/>
<rect x="417.48" y="497.6" width="37.22" height="11.5" rx="4.2" fill="url(#ecg)" stroke="#f8d61c" stroke-width="1.15"/>
<ellipse cx="437.09" cy="503.6" rx="3.7" ry="2.2" fill="#b4bde6" stroke="#4a56b0" stroke-width="0.8"/>
<text stroke="#111" stroke-width="0.2" x="72.3" y="506.8" font-size="9.6" fill="#111" textLength="12" lengthAdjust="spacingAndGlyphs">EC</text>
<text x="72.2" y="544.6" font-size="10.5" fill="#111" textLength="99" lengthAdjust="spacingAndGlyphs">Sinusoidal blood vessel</text>
<path d="M74.00,478.23 L74.50,478.48 L75.00,478.79 L75.50,479.14 L76.00,479.50 L76.50,479.86 L77.00,480.19 L77.50,480.47 L78.00,480.68 L78.50,480.81 L79.00,480.85 L79.50,480.80 L80.00,480.65 L80.50,480.43 L81.00,480.14 L81.50,479.81 L82.00,479.44 L82.50,479.08 L83.00,478.74 L83.50,478.43 L84.00,478.19 L84.50,478.03 L85.00,477.95 L85.50,477.97 L86.00,478.08 L86.50,478.27 L87.00,478.54 L87.50,478.86 L88.00,479.21 L88.50,479.58 L89.00,479.93 L89.50,480.25 L90.00,480.52 L90.50,480.71 L91.00,480.83 L91.50,480.85 L92.00,480.77 L92.50,480.61 L93.00,480.38 L93.50,480.08 L94.00,479.73 L94.50,479.37 L95.00,479.01 L95.50,478.67 L96.00,478.38 L96.50,478.15 L97.00,478.01 L97.50,477.95 L98.00,477.99 L98.50,478.11 L99.00,478.32 L99.50,478.60 L100.00,478.92 L100.50,479.28 L101.00,479.65 L101.50,480.00 L102.00,480.31 L102.50,480.56 L103.00,480.74 L103.50,480.84 L104.00,480.84 L104.50,480.75 L105.00,480.57 L105.50,480.32 L106.00,480.01 L106.50,479.66 L107.00,479.30 L107.50,478.94 L108.00,478.61 L108.50,478.33 L109.00,478.12 L109.50,477.99 L110.00,477.95 L110.50,478.00 L111.00,478.15 L111.50,478.37 L112.00,478.66 L112.50,478.99 L113.00,479.36 L113.50,479.72 L114.00,480.06 L114.50,480.37 L115.00,480.61 L115.50,480.77 L116.00,480.85 L116.50,480.83 L117.00,480.72 L117.50,480.53 L118.00,480.26 L118.50,479.94 L119.00,479.59 L119.50,479.22 L120.00,478.87 L120.50,478.55 L121.00,478.28 L121.50,478.09 L122.00,477.97 L122.50,477.95 L123.00,478.03 L123.50,478.19 L124.00,478.42 L124.50,478.72 L125.00,479.07 L125.50,479.43 L126.00,479.79 L126.50,480.13 L127.00,480.42 L127.50,480.65 L128.00,480.79 L128.50,480.85 L129.00,480.81 L129.50,480.69 L130.00,480.48 L130.50,480.20 L131.00,479.88 L131.50,479.52 L132.00,479.15 L132.50,478.80 L133.00,478.49 L133.50,478.24 L134.00,478.06 L134.50,477.96 L135.00,477.96 L135.50,478.05 L136.00,478.23 L136.50,478.48 L137.00,478.79 L137.50,479.14 L138.00,479.50 L138.50,479.86 L139.00,480.19 L139.50,480.47 L140.00,480.68 L140.50,480.81 L141.00,480.85 L141.50,480.80 L142.00,480.65 L142.50,480.43 L143.00,480.14 L143.50,479.81 L144.00,479.44 L144.50,479.08 L145.00,478.74 L145.50,478.43 L146.00,478.19 L146.50,478.03 L147.00,477.95 L147.50,477.97 L148.00,478.08 L148.50,478.27 L149.00,478.54 L149.50,478.86 L150.00,479.21 L150.50,479.58 L151.00,479.93 L151.50,480.25 L152.00,480.52 L152.50,480.71 L153.00,480.83 L153.50,480.85 L154.00,480.77 L154.50,480.61 L155.00,480.38 L155.50,480.08 L156.00,479.73 L156.50,479.37 L157.00,479.01 L157.50,478.67 L158.00,478.38 L158.50,478.15 L159.00,478.01 L159.50,477.95 L160.00,477.99 L160.50,478.11 L161.00,478.32 L161.50,478.60 L162.00,478.92 L162.50,479.28 L163.00,479.65 L163.50,480.00 L164.00,480.31 L164.50,480.56 L165.00,480.74 L165.50,480.84 L166.00,480.84 L166.50,480.75 L167.00,480.57 L167.50,480.32 L168.00,480.01 L168.50,479.66 L169.00,479.30 L169.50,478.94 L170.00,478.61 L170.50,478.33 L171.00,478.12 L171.50,477.99 L172.00,477.95 L172.50,478.00 L173.00,478.15 L173.50,478.37 L174.00,478.66 L174.50,478.99 L175.00,479.36 L175.50,479.72 L176.00,480.06 L176.50,480.37 L177.00,480.61 L177.50,480.77 L178.00,480.85 L178.50,480.83 L179.00,480.72 L179.50,480.53 L180.00,480.26 L180.50,479.94 L181.00,479.59 L181.50,479.22 L182.00,478.87 L182.50,478.55" fill="none" stroke="#52b95c" stroke-width="0.95"/>
<path d="M74.00,483.03 L74.50,483.28 L75.00,483.59 L75.50,483.94 L76.00,484.30 L76.50,484.66 L77.00,484.99 L77.50,485.27 L78.00,485.48 L78.50,485.61 L79.00,485.65 L79.50,485.60 L80.00,485.45 L80.50,485.23 L81.00,484.94 L81.50,484.61 L82.00,484.24 L82.50,483.88 L83.00,483.54 L83.50,483.23 L84.00,482.99 L84.50,482.83 L85.00,482.75 L85.50,482.77 L86.00,482.88 L86.50,483.07 L87.00,483.34 L87.50,483.66 L88.00,484.01 L88.50,484.38 L89.00,484.73 L89.50,485.05 L90.00,485.32 L90.50,485.51 L91.00,485.63 L91.50,485.65 L92.00,485.57 L92.50,485.41 L93.00,485.18 L93.50,484.88 L94.00,484.53 L94.50,484.17 L95.00,483.81 L95.50,483.47 L96.00,483.18 L96.50,482.95 L97.00,482.81 L97.50,482.75 L98.00,482.79 L98.50,482.91 L99.00,483.12 L99.50,483.40 L100.00,483.72 L100.50,484.08 L101.00,484.45 L101.50,484.80 L102.00,485.11 L102.50,485.36 L103.00,485.54 L103.50,485.64 L104.00,485.64 L104.50,485.55 L105.00,485.37 L105.50,485.12 L106.00,484.81 L106.50,484.46 L107.00,484.10 L107.50,483.74 L108.00,483.41 L108.50,483.13 L109.00,482.92 L109.50,482.79 L110.00,482.75 L110.50,482.80 L111.00,482.95 L111.50,483.17 L112.00,483.46 L112.50,483.79 L113.00,484.16 L113.50,484.52 L114.00,484.86 L114.50,485.17 L115.00,485.41 L115.50,485.57 L116.00,485.65 L116.50,485.63 L117.00,485.52 L117.50,485.33 L118.00,485.06 L118.50,484.74 L119.00,484.39 L119.50,484.02 L120.00,483.67 L120.50,483.35 L121.00,483.08 L121.50,482.89 L122.00,482.77 L122.50,482.75 L123.00,482.83 L123.50,482.99 L124.00,483.22 L124.50,483.52 L125.00,483.87 L125.50,484.23 L126.00,484.59 L126.50,484.93 L127.00,485.22 L127.50,485.45 L128.00,485.59 L128.50,485.65 L129.00,485.61 L129.50,485.49 L130.00,485.28 L130.50,485.00 L131.00,484.68 L131.50,484.32 L132.00,483.95 L132.50,483.60 L133.00,483.29 L133.50,483.04 L134.00,482.86 L134.50,482.76 L135.00,482.76 L135.50,482.85 L136.00,483.03 L136.50,483.28 L137.00,483.59 L137.50,483.94 L138.00,484.30 L138.50,484.66 L139.00,484.99 L139.50,485.27 L140.00,485.48 L140.50,485.61 L141.00,485.65 L141.50,485.60 L142.00,485.45 L142.50,485.23 L143.00,484.94 L143.50,484.61 L144.00,484.24 L144.50,483.88 L145.00,483.54 L145.50,483.23 L146.00,482.99 L146.50,482.83 L147.00,482.75 L147.50,482.77 L148.00,482.88 L148.50,483.07 L149.00,483.34 L149.50,483.66 L150.00,484.01 L150.50,484.38 L151.00,484.73 L151.50,485.05 L152.00,485.32 L152.50,485.51 L153.00,485.63 L153.50,485.65 L154.00,485.57 L154.50,485.41 L155.00,485.18 L155.50,484.88 L156.00,484.53 L156.50,484.17 L157.00,483.81 L157.50,483.47 L158.00,483.18 L158.50,482.95 L159.00,482.81 L159.50,482.75 L160.00,482.79 L160.50,482.91 L161.00,483.12 L161.50,483.40 L162.00,483.72 L162.50,484.08 L163.00,484.45 L163.50,484.80 L164.00,485.11 L164.50,485.36 L165.00,485.54 L165.50,485.64 L166.00,485.64 L166.50,485.55 L167.00,485.37 L167.50,485.12 L168.00,484.81 L168.50,484.46 L169.00,484.10 L169.50,483.74 L170.00,483.41 L170.50,483.13 L171.00,482.92 L171.50,482.79 L172.00,482.75 L172.50,482.80 L173.00,482.95 L173.50,483.17 L174.00,483.46 L174.50,483.79 L175.00,484.16 L175.50,484.52 L176.00,484.86 L176.50,485.17 L177.00,485.41 L177.50,485.57 L178.00,485.65 L178.50,485.63 L179.00,485.52 L179.50,485.33 L180.00,485.06 L180.50,484.74 L181.00,484.39 L181.50,484.02 L182.00,483.67 L182.50,483.35" fill="none" stroke="#52b95c" stroke-width="0.95"/>
<path d="M74.00,487.63 L74.50,487.88 L75.00,488.19 L75.50,488.54 L76.00,488.90 L76.50,489.26 L77.00,489.59 L77.50,489.87 L78.00,490.08 L78.50,490.21 L79.00,490.25 L79.50,490.20 L80.00,490.05 L80.50,489.83 L81.00,489.54 L81.50,489.21 L82.00,488.84 L82.50,488.48 L83.00,488.14 L83.50,487.83 L84.00,487.59 L84.50,487.43 L85.00,487.35 L85.50,487.37 L86.00,487.48 L86.50,487.67 L87.00,487.94 L87.50,488.26 L88.00,488.61 L88.50,488.98 L89.00,489.33 L89.50,489.65 L90.00,489.92 L90.50,490.11 L91.00,490.23 L91.50,490.25 L92.00,490.17 L92.50,490.01 L93.00,489.78 L93.50,489.48 L94.00,489.13 L94.50,488.77 L95.00,488.41 L95.50,488.07 L96.00,487.78 L96.50,487.55 L97.00,487.41 L97.50,487.35 L98.00,487.39 L98.50,487.51 L99.00,487.72 L99.50,488.00 L100.00,488.32 L100.50,488.68 L101.00,489.05 L101.50,489.40 L102.00,489.71 L102.50,489.96 L103.00,490.14 L103.50,490.24 L104.00,490.24 L104.50,490.15 L105.00,489.97 L105.50,489.72 L106.00,489.41 L106.50,489.06 L107.00,488.70 L107.50,488.34 L108.00,488.01 L108.50,487.73 L109.00,487.52 L109.50,487.39 L110.00,487.35 L110.50,487.40 L111.00,487.55 L111.50,487.77 L112.00,488.06 L112.50,488.39 L113.00,488.76 L113.50,489.12 L114.00,489.46 L114.50,489.77 L115.00,490.01 L115.50,490.17 L116.00,490.25 L116.50,490.23 L117.00,490.12 L117.50,489.93 L118.00,489.66 L118.50,489.34 L119.00,488.99 L119.50,488.62 L120.00,488.27 L120.50,487.95 L121.00,487.68 L121.50,487.49 L122.00,487.37 L122.50,487.35 L123.00,487.43 L123.50,487.59 L124.00,487.82 L124.50,488.12 L125.00,488.47 L125.50,488.83 L126.00,489.19 L126.50,489.53 L127.00,489.82 L127.50,490.05 L128.00,490.19 L128.50,490.25 L129.00,490.21 L129.50,490.09 L130.00,489.88 L130.50,489.60 L131.00,489.28 L131.50,488.92 L132.00,488.55 L132.50,488.20 L133.00,487.89 L133.50,487.64 L134.00,487.46 L134.50,487.36 L135.00,487.36 L135.50,487.45 L136.00,487.63 L136.50,487.88 L137.00,488.19 L137.50,488.54 L138.00,488.90 L138.50,489.26 L139.00,489.59 L139.50,489.87 L140.00,490.08 L140.50,490.21 L141.00,490.25 L141.50,490.20 L142.00,490.05 L142.50,489.83 L143.00,489.54 L143.50,489.21 L144.00,488.84 L144.50,488.48 L145.00,488.14 L145.50,487.83 L146.00,487.59 L146.50,487.43 L147.00,487.35 L147.50,487.37 L148.00,487.48 L148.50,487.67 L149.00,487.94 L149.50,488.26 L150.00,488.61 L150.50,488.98 L151.00,489.33 L151.50,489.65 L152.00,489.92 L152.50,490.11 L153.00,490.23 L153.50,490.25 L154.00,490.17 L154.50,490.01 L155.00,489.78 L155.50,489.48 L156.00,489.13 L156.50,488.77 L157.00,488.41 L157.50,488.07 L158.00,487.78 L158.50,487.55 L159.00,487.41 L159.50,487.35 L160.00,487.39 L160.50,487.51 L161.00,487.72 L161.50,488.00 L162.00,488.32 L162.50,488.68 L163.00,489.05 L163.50,489.40 L164.00,489.71 L164.50,489.96 L165.00,490.14 L165.50,490.24 L166.00,490.24 L166.50,490.15 L167.00,489.97 L167.50,489.72 L168.00,489.41 L168.50,489.06 L169.00,488.70 L169.50,488.34 L170.00,488.01 L170.50,487.73 L171.00,487.52 L171.50,487.39 L172.00,487.35 L172.50,487.40 L173.00,487.55 L173.50,487.77 L174.00,488.06 L174.50,488.39 L175.00,488.76 L175.50,489.12 L176.00,489.46 L176.50,489.77 L177.00,490.01 L177.50,490.17 L178.00,490.25 L178.50,490.23 L179.00,490.12 L179.50,489.93 L180.00,489.66 L180.50,489.34 L181.00,488.99 L181.50,488.62 L182.00,488.27 L182.50,487.95" fill="none" stroke="#52b95c" stroke-width="0.95"/>
<path d="M74.00,491.83 L74.50,492.08 L75.00,492.39 L75.50,492.74 L76.00,493.10 L76.50,493.46 L77.00,493.79 L77.50,494.07 L78.00,494.28 L78.50,494.41 L79.00,494.45 L79.50,494.40 L80.00,494.25 L80.50,494.03 L81.00,493.74 L81.50,493.41 L82.00,493.04 L82.50,492.68 L83.00,492.34 L83.50,492.03 L84.00,491.79 L84.50,491.63 L85.00,491.55 L85.50,491.57 L86.00,491.68 L86.50,491.87 L87.00,492.14 L87.50,492.46 L88.00,492.81 L88.50,493.18 L89.00,493.53 L89.50,493.85 L90.00,494.12 L90.50,494.31 L91.00,494.43 L91.50,494.45 L92.00,494.37 L92.50,494.21 L93.00,493.98 L93.50,493.68 L94.00,493.33 L94.50,492.97 L95.00,492.61 L95.50,492.27 L96.00,491.98 L96.50,491.75 L97.00,491.61 L97.50,491.55 L98.00,491.59 L98.50,491.71 L99.00,491.92 L99.50,492.20 L100.00,492.52 L100.50,492.88 L101.00,493.25 L101.50,493.60 L102.00,493.91 L102.50,494.16 L103.00,494.34 L103.50,494.44 L104.00,494.44 L104.50,494.35 L105.00,494.17 L105.50,493.92 L106.00,493.61 L106.50,493.26 L107.00,492.90 L107.50,492.54 L108.00,492.21 L108.50,491.93 L109.00,491.72 L109.50,491.59 L110.00,491.55 L110.50,491.60 L111.00,491.75 L111.50,491.97 L112.00,492.26 L112.50,492.59 L113.00,492.96 L113.50,493.32 L114.00,493.66 L114.50,493.97 L115.00,494.21 L115.50,494.37 L116.00,494.45 L116.50,494.43 L117.00,494.32 L117.50,494.13 L118.00,493.86 L118.50,493.54 L119.00,493.19 L119.50,492.82 L120.00,492.47 L120.50,492.15 L121.00,491.88 L121.50,491.69 L122.00,491.57 L122.50,491.55 L123.00,491.63 L123.50,491.79 L124.00,492.02 L124.50,492.32 L125.00,492.67 L125.50,493.03 L126.00,493.39 L126.50,493.73 L127.00,494.02 L127.50,494.25 L128.00,494.39 L128.50,494.45 L129.00,494.41 L129.50,494.29 L130.00,494.08 L130.50,493.80 L131.00,493.48 L131.50,493.12 L132.00,492.75 L132.50,492.40 L133.00,492.09 L133.50,491.84 L134.00,491.66 L134.50,491.56 L135.00,491.56 L135.50,491.65 L136.00,491.83 L136.50,492.08 L137.00,492.39 L137.50,492.74 L138.00,493.10 L138.50,493.46 L139.00,493.79 L139.50,494.07 L140.00,494.28 L140.50,494.41 L141.00,494.45 L141.50,494.40 L142.00,494.25 L142.50,494.03 L143.00,493.74 L143.50,493.41 L144.00,493.04 L144.50,492.68 L145.00,492.34 L145.50,492.03 L146.00,491.79 L146.50,491.63 L147.00,491.55 L147.50,491.57 L148.00,491.68 L148.50,491.87 L149.00,492.14 L149.50,492.46 L150.00,492.81 L150.50,493.18 L151.00,493.53 L151.50,493.85 L152.00,494.12 L152.50,494.31 L153.00,494.43 L153.50,494.45 L154.00,494.37 L154.50,494.21 L155.00,493.98 L155.50,493.68 L156.00,493.33 L156.50,492.97 L157.00,492.61 L157.50,492.27 L158.00,491.98 L158.50,491.75 L159.00,491.61 L159.50,491.55 L160.00,491.59 L160.50,491.71 L161.00,491.92 L161.50,492.20 L162.00,492.52 L162.50,492.88 L163.00,493.25 L163.50,493.60 L164.00,493.91 L164.50,494.16 L165.00,494.34 L165.50,494.44 L166.00,494.44 L166.50,494.35 L167.00,494.17 L167.50,493.92 L168.00,493.61 L168.50,493.26 L169.00,492.90 L169.50,492.54 L170.00,492.21 L170.50,491.93 L171.00,491.72 L171.50,491.59 L172.00,491.55 L172.50,491.60 L173.00,491.75 L173.50,491.97 L174.00,492.26 L174.50,492.59 L175.00,492.96 L175.50,493.32 L176.00,493.66 L176.50,493.97 L177.00,494.21 L177.50,494.37 L178.00,494.45 L178.50,494.43 L179.00,494.32 L179.50,494.13 L180.00,493.86 L180.50,493.54 L181.00,493.19 L181.50,492.82 L182.00,492.47 L182.50,492.15" fill="none" stroke="#52b95c" stroke-width="0.95"/>
<text stroke="#38ad45" stroke-width="0.3" x="71.7" y="463.8" font-size="9.3" fill="#38ad45" textLength="57.2" lengthAdjust="spacingAndGlyphs">ColR, TRPV4,</text>
<text stroke="#38ad45" stroke-width="0.3" x="71.7" y="473.9" font-size="9.3" fill="#38ad45" textLength="27.8" lengthAdjust="spacingAndGlyphs">Piezo1</text>
<text stroke="#55b865" stroke-width="0.2" x="32.8" y="483.3" font-size="10" fill="#55b865" textLength="28.6" lengthAdjust="spacingAndGlyphs">Type 4</text>
<text stroke="#55b865" stroke-width="0.2" x="32.8" y="493.5" font-size="10" fill="#55b865" textLength="36.2" lengthAdjust="spacingAndGlyphs">collagen</text>
<path d="M138.00,496.60 C141.67,496.43 153.83,496.03 160.00,495.60 C166.17,495.17 170.67,494.85 175.00,494.00 C179.33,493.15 182.50,491.92 186.00,490.50 C189.50,489.08 192.83,486.85 196.00,485.50 C199.17,484.15 202.17,482.95 205.00,482.40 C207.83,481.85 210.17,481.85 213.00,482.20 C215.83,482.55 218.50,483.45 222.00,484.50 C225.50,485.55 229.67,487.17 234.00,488.50 C238.33,489.83 243.33,491.45 248.00,492.50 C252.67,493.55 257.67,494.22 262.00,494.80 C266.33,495.38 272.00,495.60 274.00,496.00 C276.00,496.40 296.67,497.00 274.00,497.20 C251.33,497.40 160.67,497.20 138.00,497.20Z" fill="url(#peri)" stroke="#ef6e2c" stroke-width="1.1"/>
<ellipse cx="209.4" cy="490.5" rx="5.6" ry="2.9" fill="url(#nuc)" stroke="#4658d0" stroke-width="0.9"/>
<text stroke="#111" stroke-width="0.2" x="193.2" y="494.9" font-size="9.2" fill="#111">P</text>
<path d="M89.50,422.40 L90.40,422.74 L91.20,422.95 L91.82,422.93 L92.22,422.62 L92.38,422.02 L92.37,421.19 L92.25,420.23 L92.13,419.28 L92.12,418.45 L92.28,417.85 L92.67,417.54 L93.29,417.52 L94.10,417.73 L95.00,418.07 L95.90,418.41 L96.70,418.62 L97.32,418.59 L97.72,418.29 L97.88,417.69 L97.87,416.86 L97.75,415.90 L97.63,414.94 L97.61,414.12 L97.78,413.52 L98.17,413.21 L98.79,413.19 L99.59,413.40 L100.50,413.74 L101.40,414.07 L102.20,414.28 L102.82,414.26 L103.21,413.95 L103.38,413.36 L103.36,412.53 L103.25,411.57 L103.13,410.61 L103.11,409.78 L103.28,409.19 L103.67,408.88 L104.29,408.86 L105.09,409.07 L106.00,409.40" fill="none" stroke="#bf2f7c" stroke-width="1.2"/>
<path d="M165.60,423.10 L164.64,423.21 L163.83,423.39 L163.29,423.69 L163.08,424.14 L163.20,424.75 L163.60,425.48 L164.14,426.28 L164.67,427.08 L165.07,427.81 L165.19,428.42 L164.98,428.87 L164.44,429.17 L163.63,429.35 L162.67,429.46 L161.71,429.57 L160.90,429.74 L160.36,430.04 L160.15,430.50 L160.28,431.11 L160.67,431.84 L161.21,432.64 L161.75,433.44 L162.14,434.17 L162.26,434.77 L162.05,435.23 L161.51,435.53 L160.70,435.71 L159.74,435.82 L158.78,435.92 L157.97,436.10 L157.43,436.40 L157.22,436.86 L157.35,437.46 L157.74,438.19 L158.28,438.99 L158.82,439.79 L159.21,440.52 L159.33,441.13 L159.12,441.59 L158.58,441.89 L157.77,442.06 L156.81,442.17 L155.85,442.28 L155.04,442.46" fill="none" stroke="#bf2f7c" stroke-width="1.2"/>
<path d="M159.50,446.20 L158.61,445.83 L157.82,445.59 L157.20,445.59 L156.79,445.89 L156.61,446.48 L156.59,447.31 L156.67,448.27 L156.76,449.23 L156.74,450.06 L156.56,450.65 L156.15,450.94 L155.53,450.94 L154.74,450.70 L153.85,450.33 L152.96,449.96 L152.17,449.72 L151.55,449.72 L151.14,450.02 L150.95,450.61 L150.94,451.44 L151.02,452.40 L151.11,453.36 L151.09,454.19 L150.91,454.78 L150.50,455.07 L149.88,455.07 L149.09,454.83 L148.20,454.46 L147.31,454.09 L146.51,453.85 L145.89,453.85 L145.49,454.15 L145.30,454.74 L145.29,455.57 L145.37,456.53 L145.46,457.49 L145.44,458.32 L145.26,458.91 L144.85,459.20 L144.23,459.20 L143.44,458.97 L142.55,458.59 L141.66,458.22 L140.86,457.99 L140.24,457.98 L139.84,458.28" fill="none" stroke="#bf2f7c" stroke-width="1.2"/>
<path d="M161.20,450.40 L160.28,450.12 L159.46,449.97 L158.85,450.03 L158.47,450.36 L158.35,450.97 L158.42,451.80 L158.60,452.75 L158.78,453.69 L158.85,454.52 L158.73,455.13 L158.36,455.46 L157.74,455.52 L156.93,455.37 L156.00,455.09 L155.08,454.81 L154.27,454.66 L153.65,454.72 L153.28,455.06 L153.15,455.66 L153.22,456.49 L153.41,457.44 L153.59,458.38 L153.66,459.21 L153.53,459.82 L153.16,460.15 L152.54,460.21 L151.73,460.06 L150.81,459.78 L149.88,459.50 L149.07,459.35 L148.45,459.41 L148.08,459.75 L147.96,460.35 L148.03,461.18 L148.21,462.13 L148.39,463.07 L148.46,463.90 L148.34,464.51 L147.97,464.84 L147.35,464.90 L146.53,464.75" fill="none" stroke="#bf2f7c" stroke-width="1.2"/>
<path d="M108.68,408.35 L109.14,408.02 L109.63,407.72 L110.17,407.48 L110.74,407.29 L111.34,407.16 L111.97,407.08 L112.62,407.04 L113.28,407.01 L113.95,406.98 L114.63,406.94 L115.30,406.88 L115.98,406.80 L116.66,406.70 L117.38,406.59 L118.11,406.49 L118.87,406.40 L119.64,406.34 L120.42,406.31 L121.20,406.28 L121.95,406.23 L122.68,406.14 L123.36,405.98 L124.02,405.77 L124.65,405.50 L125.27,405.19 L125.91,404.86 L126.56,404.53 L127.22,404.23 L127.89,404.00 L128.55,403.86 L129.19,403.83 L129.81,403.90 L130.40,404.07 L130.96,404.32 L131.46,404.64 L131.93,405.00 L132.35,405.38 L132.69,405.76 L132.98,406.14 L133.23,406.51 L133.46,406.85 L133.69,407.19 L133.94,407.51 L134.22,407.81 L134.54,408.10 L134.91,408.36 L135.33,408.58 L135.80,408.75 L136.28,408.87 L136.78,408.96 L137.30,409.03 L137.83,409.08 L138.37,409.13 L138.91,409.19 L139.45,409.25 L139.98,409.33 L140.50,409.43 L141.01,409.54 L141.51,409.66 L142.00,409.78 L142.48,409.90 L142.97,410.00 L143.47,410.09 L143.97,410.17 L144.48,410.23 L144.99,410.29 L145.50,410.35 L146.00,410.43 L146.50,410.52 L146.98,410.63 L147.44,410.79 L147.88,410.98 L148.29,411.21 L148.68,411.47 L149.04,411.75 L149.37,412.07 L149.69,412.40 L149.98,412.74 L150.25,413.08 L150.51,413.41 L150.75,413.73 L150.98,414.03 L151.21,414.31 L151.42,414.55 L151.61,414.77 L151.78,414.95 L151.94,415.11 L152.10,415.25 L152.25,415.39 L152.41,415.52 L152.58,415.65 L152.77,415.78 L152.97,415.91 L153.19,416.05 L153.43,416.19 L153.70,416.33 L153.99,416.46 L154.27,416.57 L154.57,416.68 L154.86,416.78 L155.15,416.88 L155.46,417.00 L155.76,417.14 L156.07,417.31 L156.38,417.51 L156.69,417.76 L156.98,418.06 L157.25,418.40 L157.48,418.77 L157.68,419.19 L157.84,419.65 L157.94,420.16 L157.99,420.69 L157.99,421.25 L157.94,421.83 L157.86,422.40 L157.76,422.97 L157.66,423.52 L157.56,424.04 L157.46,424.52 L157.38,424.99 L157.30,425.47 L157.23,425.94 L157.18,426.43 L157.13,426.92 L157.08,427.41 L157.04,427.90 L156.99,428.38 L156.92,428.86 L156.86,429.33 L156.78,429.78 L156.70,430.21 L156.62,430.61 L156.53,430.99 L156.42,431.36 L156.32,431.73 L156.21,432.09 L156.11,432.44 L156.02,432.80 L155.94,433.17 L155.87,433.54 L155.83,433.91 L155.81,434.28 L155.82,434.65 L155.85,435.02 L155.91,435.38 L155.99,435.73 L156.07,436.08 L156.14,436.44 L156.21,436.81 L156.25,437.19 L156.26,437.59 L156.22,438.00 L156.13,438.42 L155.99,438.85 L155.77,439.26 L155.48,439.65 L155.13,439.99 L154.74,440.29 L154.30,440.55 L153.84,440.78 L153.37,441.00 L152.89,441.22 L152.42,441.46 L151.98,441.72 L151.58,442.03 L151.23,442.38 L150.93,442.78 L150.70,443.23 L150.56,443.70 L150.49,444.16 L150.48,444.61 L150.53,445.03 L150.60,445.44 L150.69,445.83 L150.78,446.20 L150.85,446.58 L150.88,446.96 L150.86,447.34 L150.76,447.74 L150.60,448.12 L150.40,448.48 L150.16,448.82 L149.87,449.12 L149.54,449.40 L149.17,449.64 L148.78,449.84 L148.35,450.01 L147.90,450.13 L147.43,450.22 L146.94,450.29 L146.43,450.33 L145.87,450.35 L145.28,450.34 L144.67,450.31 L144.04,450.28 L143.40,450.26 L142.74,450.23 L142.08,450.21 L141.42,450.18 L140.77,450.13 L140.13,450.08 L139.51,450.03 L138.92,449.99 L138.37,449.97 L137.83,449.97 L137.32,449.99 L136.82,450.04 L136.34,450.13 L135.87,450.27 L135.41,450.45 L134.98,450.68 L134.55,450.96 L134.14,451.28 L133.74,451.64 L133.36,452.04 L132.99,452.47 L132.65,452.93 L132.31,453.39 L131.94,453.83 L131.53,454.23 L131.05,454.57 L130.52,454.84 L129.94,455.02 L129.32,455.13 L128.69,455.14 L128.08,455.07 L127.52,454.91 L127.01,454.69 L126.56,454.44 L126.15,454.17 L125.74,453.90 L125.33,453.66 L124.90,453.44 L124.45,453.26 L123.96,453.11 L123.45,453.01 L122.91,452.94 L122.37,452.91 L121.83,452.91 L121.31,452.94 L120.80,452.96 L120.29,452.96 L119.79,452.94 L119.29,452.91 L118.80,452.85 L118.31,452.78 L117.83,452.69 L117.34,452.59 L116.86,452.49 L116.38,452.39 L115.90,452.29 L115.42,452.20 L114.93,452.12 L114.44,452.04 L113.95,451.97 L113.45,451.89 L112.97,451.80 L112.48,451.69 L112.00,451.55 L111.52,451.39 L111.06,451.19 L110.60,450.96 L110.15,450.69 L109.71,450.41 L109.25,450.11 L108.78,449.81 L108.31,449.51 L107.85,449.24 L107.39,448.99 L106.95,448.77 L106.51,448.60 L106.09,448.47 L105.68,448.38 L105.25,448.32 L104.82,448.28 L104.34,448.22 L103.83,448.15 L103.28,448.04 L102.71,447.90 L102.15,447.71 L101.60,447.49 L101.09,447.22 L100.63,446.91 L100.23,446.57 L99.89,446.19 L99.60,445.80 L99.35,445.38 L99.13,444.93 L98.92,444.46 L98.73,443.97 L98.55,443.48 L98.38,443.00 L98.20,442.52 L98.02,442.06 L97.83,441.62 L97.63,441.21 L97.42,440.81 L97.20,440.44 L96.98,440.07 L96.75,439.72 L96.52,439.39 L96.29,439.06 L96.06,438.75 L95.85,438.43 L95.65,438.11 L95.45,437.79 L95.27,437.46 L95.10,437.12 L94.95,436.76 L94.80,436.39 L94.66,435.99 L94.53,435.58 L94.39,435.15 L94.25,434.70 L94.10,434.24 L93.93,433.77 L93.75,433.29 L93.56,432.80 L93.37,432.31 L93.18,431.80 L93.00,431.29 L92.86,430.77 L92.75,430.24 L92.70,429.68 L92.74,429.11 L92.85,428.56 L93.04,428.04 L93.30,427.55 L93.62,427.09 L93.98,426.66 L94.36,426.25 L94.75,425.84 L95.11,425.44 L95.44,425.01 L95.70,424.54 L95.88,424.05 L95.98,423.53 L95.99,423.04 L95.94,422.58 L95.84,422.16 L95.71,421.80 L95.55,421.48 L95.40,421.21 L95.24,420.98 L95.10,420.77 L94.98,420.59 L94.89,420.37 L94.83,420.11 L94.84,419.81 L94.89,419.48 L95.00,419.13 L95.15,418.77 L95.33,418.42 L95.53,418.08 L95.75,417.76 L95.98,417.47 L96.21,417.20 L96.43,416.95 L96.64,416.72 L96.86,416.49 L97.09,416.26 L97.33,416.05 L97.58,415.84 L97.83,415.64 L98.10,415.45 L98.38,415.25 L98.66,415.05 L98.96,414.85 L99.27,414.64 L99.59,414.43 L99.92,414.21 L100.27,413.97 L100.64,413.71 L101.01,413.44 L101.39,413.16 L101.78,412.87 L102.18,412.58 L102.59,412.30 L103.00,412.03 L103.43,411.79 L103.85,411.57 L104.26,411.38 L104.67,411.21 L105.06,411.06 L105.44,410.92 L105.79,410.79 L106.13,410.66 L106.46,410.53 L106.78,410.40 L107.11,410.25 L107.44,410.08 L107.78,409.88 L108.14,409.65 L108.51,409.37Z" fill="url(#memb)" stroke="#9f62ec" stroke-width="1.1"/>
<ellipse cx="125.7" cy="429.8" rx="27.8" ry="19.5" fill="url(#cyto)" stroke="#8456e0" stroke-width="1.2"/>
<ellipse cx="123.9" cy="420.9" rx="8.4" ry="5.6" transform="rotate(8 123.9 420.9)" fill="url(#nuc)" stroke="#1f3ee6" stroke-width="1.4"/>
<ellipse cx="134.7" cy="428.8" rx="8" ry="5" transform="rotate(40 134.7 428.8)" fill="url(#nuc)" stroke="#1f3ee6" stroke-width="1.4"/>
<ellipse cx="116.7" cy="431" rx="6.5" ry="6.1" transform="rotate(-20 116.7 431)" fill="url(#nuc)" stroke="#1f3ee6" stroke-width="1.4"/>
<path d="M112.80,408.20 C112.05,407.00 109.33,403.48 108.30,401.00 C107.27,398.52 106.40,395.97 106.60,393.30 C106.80,390.63 107.93,387.28 109.50,385.00 C111.07,382.72 113.52,380.80 116.00,379.60 C118.48,378.40 121.57,377.82 124.40,377.80 C127.23,377.78 130.40,378.30 133.00,379.50 C135.60,380.70 138.30,382.70 140.00,385.00 C141.70,387.30 142.93,390.63 143.20,393.30 C143.47,395.97 142.55,398.72 141.60,401.00 C140.65,403.28 138.18,406.00 137.50,407.00" fill="none" stroke="#1a1a1a" stroke-width="1.1"/>
<path d="M132.40,411.60 L134.86,405.31 L138.95,409.96Z" fill="#111"/>
<text stroke="#111" stroke-width="0.2" x="115.1" y="389.5" font-size="10.4" fill="#111" textLength="18.9" lengthAdjust="spacingAndGlyphs">ADP</text>
<text stroke="#27aae1" stroke-width="0.1" x="116" y="400.8" font-size="9.6" font-weight="bold" fill="#27aae1" textLength="17" lengthAdjust="spacingAndGlyphs">glut</text>
<text stroke="#27aae1" stroke-width="0.38" x="145.2" y="410.2" font-size="9.6" fill="#27aae1" textLength="36" lengthAdjust="spacingAndGlyphs">NMDAR</text>
<path d="M146.40,412.50 C148.33,412.68 154.65,412.35 158.00,413.60 C161.35,414.85 164.45,417.27 166.50,420.00 C168.55,422.73 169.62,427.25 170.30,430.00 C170.98,432.75 170.55,435.42 170.60,436.50" fill="none" stroke="#1a1a1a" stroke-width="1.1"/>
<path d="M170.80,440.60 L167.19,434.57 L173.79,434.24Z" fill="#111"/>
<text stroke="#000" stroke-width="0.5" x="162.6" y="448.9" font-size="9.6" fill="#000" textLength="18.2" lengthAdjust="spacingAndGlyphs">LOX</text>
<text stroke="#000" stroke-width="0.5" x="162.6" y="459.8" font-size="9.6" fill="#000" textLength="26.9" lengthAdjust="spacingAndGlyphs">MMPs</text>
<line x1="171" y1="461.6" x2="171" y2="475.5" stroke="#111" stroke-width="1.15"/>
<path d="M171.00,481.20 L167.70,474.80 L174.30,474.80Z" fill="#111"/>
<path d="M211.80,484.40 C212.50,483.00 213.80,478.40 216.00,476.00 C218.20,473.60 221.33,471.30 225.00,470.00 C228.67,468.70 233.83,467.95 238.00,468.20 C242.17,468.45 246.67,469.87 250.00,471.50 C253.33,473.13 256.13,476.08 258.00,478.00 C259.87,479.92 260.67,482.17 261.20,483.00" fill="none" stroke="#1a1a1a" stroke-width="1.1"/>
<path d="M262.60,487.40 L258.49,483.54 L263.40,481.82Z" fill="#111"/>
<text stroke="#27aae1" stroke-width="0.2" x="218.6" y="482.5" font-size="9.8" fill="#27aae1" textLength="37" lengthAdjust="spacingAndGlyphs">? pericyte</text>
<text stroke="#27aae1" stroke-width="0.1" x="229.6" y="492.8" font-size="9.8" font-weight="bold" fill="#27aae1" textLength="15.2" lengthAdjust="spacingAndGlyphs">glut</text>
<path d="M261.54,463.40 L261.99,462.71 L262.41,462.15 L262.80,461.70 L263.15,461.32 L263.49,460.98 L263.84,460.62 L264.21,460.22 L264.60,459.74 L265.01,459.23 L265.48,458.72 L266.01,458.21 L266.59,457.69 L267.21,457.16 L267.84,456.57 L268.45,455.89 L269.01,455.09 L269.54,454.17 L270.12,453.20 L270.90,452.34 L271.94,451.75 L273.22,451.44 L274.53,451.27 L275.67,451.07 L276.56,450.70 L277.26,450.16 L277.90,449.48 L278.57,448.76 L279.29,448.11 L280.07,447.60 L280.92,447.27 L281.82,447.11 L282.78,447.05 L283.80,447.01 L284.87,446.96 L285.95,446.86 L287.05,446.76 L288.15,446.75 L289.24,446.84 L290.28,446.96 L291.24,447.01 L292.15,446.92 L293.06,446.66 L293.98,446.27 L294.93,445.87 L295.87,445.57 L296.78,445.47 L297.63,445.62 L298.41,446.00 L299.11,446.55 L299.72,447.19 L300.27,447.83 L300.80,448.41 L301.36,448.88 L301.98,449.25 L302.66,449.49 L303.40,449.64 L304.17,449.75 L304.93,449.86 L305.68,450.03 L306.42,450.25 L307.14,450.52 L307.85,450.83 L308.59,451.14 L309.36,451.43 L310.19,451.68 L311.08,451.92 L311.98,452.22 L312.86,452.66 L313.68,453.27 L314.43,454.00 L315.11,454.75 L315.77,455.40 L316.48,455.87 L317.27,456.14 L318.14,456.23 L319.07,456.24 L320.01,456.26 L320.93,456.39 L321.76,456.71 L322.45,457.24 L322.96,457.93 L323.33,458.76 L323.58,459.65 L323.78,460.54 L323.97,461.39 L324.20,462.17 L324.45,462.92 L324.70,463.64 L324.92,464.39 L325.07,465.19 L325.15,466.03 L325.19,466.90 L325.22,467.80 L325.30,468.71 L325.46,469.64 L325.65,470.57 L325.80,471.52 L325.81,472.47 L325.58,473.39 L325.09,474.25 L324.38,475.00 L323.56,475.67 L322.78,476.30 L322.15,476.91 L321.69,477.60 L321.41,478.41 L321.23,479.36 L321.07,480.36 L320.83,481.32 L320.46,482.17 L319.97,482.86 L319.40,483.42 L318.77,483.86 L318.13,484.18 L317.50,484.43 L316.91,484.64 L316.34,484.85 L315.80,485.08 L315.28,485.35 L314.80,485.70 L314.34,486.10 L313.91,486.53 L313.52,486.99 L313.18,487.49 L312.82,487.98 L312.47,488.48 L312.13,488.98 L311.80,489.50 L311.49,490.03 L311.19,490.58 L310.91,491.15 L310.64,491.72 L310.38,492.30 L310.12,492.87 L309.86,493.44 L309.60,494.00 L309.34,494.57 L309.07,495.16 L308.80,495.77 L308.54,496.36 L308.29,496.93 L308.05,497.45 L307.82,497.92 L307.60,498.30 L307.41,498.61 L307.24,498.88 L307.08,499.09 L306.93,499.26 L306.79,499.37 L306.64,499.43 L306.48,499.44 L306.30,499.40 L306.11,499.30 L305.92,499.12 L305.72,498.90 L305.52,498.62 L305.31,498.30 L305.08,497.95 L304.85,497.58 L304.60,497.20 L304.33,496.77 L304.04,496.27 L303.72,495.72 L303.41,495.15 L303.09,494.59 L302.77,494.06 L302.48,493.59 L302.20,493.20 L301.94,492.88 L301.70,492.61 L301.46,492.38 L301.24,492.19 L301.02,492.03 L300.81,491.92 L300.60,491.84 L300.40,491.80 L300.21,491.78 L300.03,491.79 L299.86,491.83 L299.69,491.91 L299.53,492.04 L299.36,492.23 L299.19,492.48 L299.00,492.80 L298.80,493.23 L298.60,493.77 L298.38,494.39 L298.17,495.06 L297.95,495.74 L297.73,496.42 L297.51,497.05 L297.30,497.60 L297.09,498.12 L296.87,498.66 L296.66,499.19 L296.44,499.69 L296.23,500.14 L296.02,500.50 L295.81,500.77 L295.60,500.90 L295.40,500.90 L295.19,500.78 L294.99,500.57 L294.79,500.27 L294.60,499.91 L294.40,499.50 L294.20,499.05 L294.00,498.60 L293.80,498.08 L293.60,497.45 L293.40,496.75 L293.19,496.02 L292.99,495.30 L292.79,494.63 L292.60,494.05 L292.40,493.60 L292.20,493.25 L292.01,492.96 L291.81,492.73 L291.61,492.56 L291.42,492.46 L291.24,492.43 L291.06,492.48 L290.90,492.60 L290.75,492.81 L290.63,493.10 L290.51,493.48 L290.40,493.92 L290.29,494.42 L290.17,494.97 L290.05,495.57 L289.90,496.20 L289.74,496.94 L289.56,497.83 L289.37,498.81 L289.18,499.82 L288.98,500.79 L288.78,501.67 L288.59,502.40 L288.40,502.90 L288.22,503.20 L288.06,503.35 L287.89,503.37 L287.73,503.28 L287.56,503.10 L287.39,502.85 L287.20,502.54 L287.00,502.20 L286.78,501.78 L286.54,501.24 L286.29,500.62 L286.04,499.94 L285.78,499.23 L285.51,498.52 L285.25,497.84 L285.00,497.20 L284.75,496.58 L284.50,495.95 L284.24,495.31 L283.99,494.68 L283.74,494.07 L283.49,493.52 L283.24,493.02 L283.00,492.60 L282.80,492.28 L282.65,492.06 L282.52,491.90 L282.39,491.78 L282.22,491.68 L281.98,491.57 L281.65,491.42 L281.20,491.20 L280.60,490.93 L279.86,490.65 L279.03,490.35 L278.13,490.02 L277.21,489.68 L276.29,489.31 L275.41,488.92 L274.60,488.50 L273.85,488.06 L273.12,487.59 L272.35,487.16 L271.68,486.61 L271.13,485.90 L270.68,485.10 L270.26,484.32 L269.74,483.66 L269.03,483.19 L268.27,482.75 L267.50,482.28 L266.79,481.74 L266.15,481.13 L265.58,480.46 L265.06,479.73 L264.56,478.99 L264.05,478.24 L263.55,477.46 L263.11,476.63 L262.81,475.73 L262.69,474.75 L262.76,473.73 L262.94,472.71 L263.12,471.74 L263.15,470.77 L262.88,469.75 L262.30,468.66 L261.60,467.52 L261.08,466.37 L260.93,465.25 L261.13,464.25Z" fill="url(#memb)" stroke="#9f62ec" stroke-width="1.1"/>
<ellipse cx="292.3" cy="470.6" rx="27.4" ry="19" fill="url(#cyto)" stroke="#8456e0" stroke-width="1.2"/>
<ellipse cx="290.5" cy="462.2" rx="8.6" ry="5.6" transform="rotate(8 290.5 462.2)" fill="url(#nuc)" stroke="#1f3ee6" stroke-width="1.4"/>
<ellipse cx="301.6" cy="469.1" rx="8" ry="5" transform="rotate(40 301.6 469.1)" fill="url(#nuc)" stroke="#1f3ee6" stroke-width="1.4"/>
<ellipse cx="284.3" cy="471.2" rx="6.6" ry="5.9" transform="rotate(-20 284.3 471.2)" fill="url(#nuc)" stroke="#1f3ee6" stroke-width="1.4"/>
<text stroke="#27aae1" stroke-width="0.38" x="314.7" y="494.7" font-size="9.6" fill="#27aae1" textLength="36" lengthAdjust="spacingAndGlyphs">NMDAR</text>
<path d="M359.48,449.95 L360.04,449.59 L360.67,449.33 L361.37,449.14 L362.11,449.00 L362.86,448.89 L363.62,448.76 L364.37,448.60 L365.11,448.40 L365.85,448.19 L366.60,447.99 L367.36,447.82 L368.13,447.69 L368.94,447.61 L369.78,447.50 L370.64,447.33 L371.51,447.01 L372.37,446.53 L373.24,445.94 L374.13,445.35 L375.02,444.90 L375.93,444.70 L376.82,444.78 L377.68,445.09 L378.49,445.53 L379.25,445.99 L379.97,446.40 L380.66,446.71 L381.31,446.89 L381.93,446.94 L382.53,446.88 L383.12,446.74 L383.71,446.56 L384.31,446.39 L384.91,446.26 L385.51,446.20 L386.12,446.23 L386.71,446.37 L387.25,446.62 L387.74,446.97 L388.18,447.37 L388.57,447.80 L388.93,448.25 L389.28,448.69 L389.63,449.10 L389.98,449.49 L390.32,449.85 L390.67,450.16 L391.02,450.44 L391.39,450.70 L391.76,450.95 L392.13,451.21 L392.51,451.48 L392.90,451.76 L393.29,452.04 L393.68,452.33 L394.08,452.62 L394.47,452.90 L394.85,453.15 L395.24,453.38 L395.63,453.56 L396.07,453.71 L396.56,453.80 L397.08,453.81 L397.62,453.77 L398.20,453.68 L398.79,453.56 L399.38,453.43 L399.96,453.32 L400.51,453.25 L401.04,453.24 L401.53,453.29 L401.97,453.41 L402.36,453.58 L402.72,453.80 L403.07,454.07 L403.40,454.38 L403.73,454.71 L404.04,455.06 L404.34,455.42 L404.63,455.77 L404.89,456.12 L405.15,456.44 L405.39,456.75 L405.62,457.05 L405.87,457.33 L406.13,457.59 L406.40,457.84 L406.68,458.07 L406.97,458.30 L407.27,458.53 L407.57,458.76 L407.87,459.00 L408.17,459.26 L408.45,459.53 L408.72,459.82 L408.97,460.13 L409.20,460.46 L409.42,460.81 L409.63,461.17 L409.84,461.55 L410.04,461.95 L410.24,462.34 L410.44,462.75 L410.66,463.16 L410.87,463.59 L411.09,464.01 L411.31,464.45 L411.50,464.90 L411.67,465.36 L411.80,465.84 L411.88,466.33 L411.89,466.83 L411.83,467.33 L411.69,467.83 L411.49,468.33 L411.22,468.82 L410.91,469.30 L410.58,469.78 L410.24,470.25 L409.93,470.73 L409.67,471.20 L409.47,471.68 L409.35,472.17 L409.32,472.68 L409.38,473.20 L409.52,473.74 L409.72,474.30 L409.95,474.88 L410.18,475.46 L410.38,476.05 L410.53,476.63 L410.61,477.20 L410.60,477.76 L410.51,478.31 L410.33,478.85 L410.08,479.38 L409.76,479.88 L409.42,480.37 L409.06,480.84 L408.71,481.29 L408.37,481.72 L408.07,482.14 L407.79,482.54 L407.52,482.90 L407.27,483.23 L407.03,483.52 L406.78,483.77 L406.53,484.01 L406.28,484.22 L406.01,484.42 L405.73,484.61 L405.43,484.80 L405.12,485.00 L404.80,485.21 L404.46,485.45 L404.12,485.72 L403.79,486.01 L403.47,486.32 L403.15,486.67 L402.86,487.06 L402.59,487.50 L402.35,487.98 L402.15,488.50 L401.97,489.03 L401.81,489.57 L401.66,490.09 L401.51,490.58 L401.34,491.02 L401.13,491.44 L400.86,491.81 L400.54,492.14 L400.17,492.42 L399.76,492.65 L399.31,492.86 L398.84,493.05 L398.37,493.24 L397.91,493.45 L397.47,493.70 L397.07,493.99 L396.72,494.34 L396.44,494.77 L396.26,495.24 L396.17,495.71 L396.17,496.16 L396.23,496.59 L396.35,496.98 L396.51,497.34 L396.68,497.67 L396.86,497.98 L397.03,498.29 L397.18,498.61 L397.29,498.96 L397.36,499.34 L397.41,499.74 L397.44,500.16 L397.44,500.57 L397.39,500.99 L397.30,501.40 L397.16,501.80 L396.97,502.17 L396.73,502.52 L396.44,502.83 L396.10,503.09 L395.72,503.28 L395.33,503.41 L394.93,503.49 L394.52,503.54 L394.10,503.55 L393.66,503.54 L393.20,503.49 L392.71,503.41 L392.21,503.30 L391.69,503.14 L391.14,502.92 L390.59,502.62 L390.02,502.24 L389.42,501.78 L388.80,501.24 L388.14,500.69 L387.39,500.24 L386.54,499.97 L385.56,499.92 L384.47,500.07 L383.34,500.29 L382.25,500.43 L381.25,500.34 L380.39,499.98 L379.66,499.38 L378.99,498.63 L378.32,497.83 L377.62,497.10 L376.85,496.52 L376.02,496.12 L375.14,495.86 L374.23,495.68 L373.33,495.51 L372.46,495.30 L371.61,495.05 L370.79,494.79 L369.98,494.55 L369.16,494.34 L368.34,494.16 L367.53,493.99 L366.74,493.77 L366.01,493.48 L365.36,493.07 L364.79,492.53 L364.31,491.87 L363.89,491.13 L363.49,490.36 L363.07,489.63 L362.60,489.00 L362.04,488.51 L361.39,488.18 L360.64,488.01 L359.82,487.95 L358.96,487.95 L358.12,487.95 L357.32,487.88 L356.60,487.71 L355.96,487.43 L355.42,487.05 L354.95,486.59 L354.55,486.09 L354.21,485.60 L353.88,485.12 L353.57,484.66 L353.27,484.24 L352.97,483.84 L352.68,483.46 L352.39,483.11 L352.11,482.76 L351.84,482.41 L351.59,482.05 L351.35,481.68 L351.14,481.28 L350.95,480.87 L350.79,480.44 L350.66,479.99 L350.54,479.53 L350.42,479.07 L350.29,478.61 L350.12,478.15 L349.93,477.69 L349.68,477.25 L349.40,476.82 L349.07,476.41 L348.72,476.02 L348.36,475.65 L348.01,475.28 L347.66,474.91 L347.36,474.53 L347.09,474.13 L346.89,473.70 L346.75,473.26 L346.69,472.79 L346.71,472.30 L346.81,471.80 L346.98,471.31 L347.22,470.81 L347.52,470.33 L347.84,469.86 L348.18,469.40 L348.49,468.95 L348.77,468.50 L348.98,468.04 L349.13,467.58 L349.20,467.11 L349.21,466.63 L349.17,466.14 L349.10,465.65 L349.02,465.15 L348.94,464.65 L348.88,464.16 L348.85,463.67 L348.87,463.19 L348.92,462.72 L349.02,462.26 L349.17,461.81 L349.35,461.38 L349.57,460.96 L349.81,460.54 L350.08,460.13 L350.37,459.72 L350.68,459.30 L350.99,458.88 L351.32,458.44 L351.66,458.01 L352.03,457.59 L352.42,457.18 L352.84,456.81 L353.31,456.46 L353.81,456.15 L354.33,455.88 L354.88,455.64 L355.42,455.42 L355.95,455.19 L356.44,454.94 L356.89,454.66 L357.28,454.34 L357.61,453.96 L357.90,453.54 L358.15,453.04 L358.37,452.49 L358.60,451.89 L358.84,451.25 L359.14,450.60Z" fill="url(#memb)" stroke="#9f62ec" stroke-width="1.1"/>
<path d="M352.30,470.80 C352.45,468.55 353.00,464.30 354.00,462.00 C355.00,459.70 357.05,457.07 359.00,455.50 C360.95,453.93 364.30,452.26 367.00,451.50 C369.70,450.74 374.00,450.40 377.00,450.40 C380.00,450.40 384.30,450.81 387.00,451.50 C389.70,452.19 393.00,453.73 395.00,455.00 C397.00,456.27 399.06,457.94 400.30,460.00 C401.55,462.06 402.91,466.10 403.30,468.70 C403.69,471.30 403.62,475.10 402.90,477.30 C402.18,479.50 400.19,481.97 398.50,483.40 C396.81,484.82 393.93,486.16 391.60,486.80 C389.28,487.44 385.04,487.52 383.00,487.70 C380.96,487.88 378.81,487.75 378.00,488.00 C377.19,488.25 377.12,488.93 377.60,489.40 C378.08,489.87 379.75,490.46 381.20,491.10 C382.65,491.75 385.61,492.92 387.30,493.70 C389.00,494.48 391.07,495.38 392.50,496.30 C393.93,497.22 395.53,498.65 396.80,499.80 C398.07,500.95 399.47,502.98 401.00,504.00 C402.53,505.02 404.99,506.09 407.00,506.60 C409.01,507.11 412.28,506.74 414.40,507.40 C416.51,508.06 418.88,509.97 421.10,511.00 C423.32,512.03 427.07,513.50 429.20,514.30 C431.33,515.09 434.16,515.59 435.30,516.30 C436.44,517.00 437.10,518.29 436.80,519.00 C436.50,519.71 434.85,520.97 433.30,521.00 C431.75,521.03 428.52,519.88 426.50,519.20 C424.48,518.53 421.81,517.49 419.80,516.50 C417.79,515.51 415.25,513.58 413.10,512.60 C410.96,511.62 407.52,510.93 405.50,510.00 C403.48,509.07 401.30,507.51 399.60,506.40 C397.91,505.29 396.05,503.59 394.20,502.60 C392.35,501.61 389.62,500.75 387.30,499.80 C384.98,498.86 381.30,497.41 378.70,496.30 C376.10,495.19 372.50,493.64 370.00,492.40 C367.50,491.15 364.10,489.49 362.00,488.00 C359.90,486.51 357.35,484.15 356.00,482.50 C354.65,480.85 353.56,478.75 353.00,477.00 C352.44,475.25 352.15,473.05 352.30,470.80Z" fill="url(#cyto3)" stroke="#8456e0" stroke-width="1.15"/>
<ellipse cx="362.8" cy="467" rx="7.6" ry="5.6" transform="rotate(-28 362.8 467)" fill="url(#nuc)" stroke="#1f3ee6" stroke-width="1.4"/>
<ellipse cx="380.4" cy="462.3" rx="8.8" ry="6.1" transform="rotate(0 380.4 462.3)" fill="url(#nuc)" stroke="#1f3ee6" stroke-width="1.4"/>
<ellipse cx="393.5" cy="467" rx="6.8" ry="5.9" transform="rotate(25 393.5 467)" fill="url(#nuc)" stroke="#1f3ee6" stroke-width="1.4"/>
<text stroke="#27aae1" stroke-width="0.38" x="390.4" y="495" font-size="9.6" fill="#27aae1" textLength="35.3" lengthAdjust="spacingAndGlyphs">NMDAR</text>
<circle cx="338.7" cy="518.3" r="2.5" fill="#d6c0f2" stroke="#8c5ad8" stroke-width="0.85"/>
<circle cx="344.6" cy="517.5" r="2.5" fill="#d6c0f2" stroke="#8c5ad8" stroke-width="0.85"/>
<circle cx="333.8" cy="523.5" r="2.5" fill="#d6c0f2" stroke="#8c5ad8" stroke-width="0.85"/>
<circle cx="346.8" cy="523.7" r="2.5" fill="#d6c0f2" stroke="#8c5ad8" stroke-width="0.85"/>
<circle cx="340.6" cy="527" r="2.5" fill="#d6c0f2" stroke="#8c5ad8" stroke-width="0.85"/>
<path d="M329.50,523.50 C327.58,523.83 322.08,525.75 318.00,525.50 C313.92,525.25 308.67,523.75 305.00,522.00 C301.33,520.25 298.08,516.75 296.00,515.00 C293.92,513.25 293.08,512.08 292.50,511.50" fill="none" stroke="#111" stroke-width="1.1"/>
<path d="M290.50,508.40 L295.48,511.05 L291.19,513.99Z" fill="#111"/>
<path d="M352.50,523.50 C354.42,523.83 359.92,525.75 364.00,525.50 C368.08,525.25 373.42,523.75 377.00,522.00 C380.58,520.25 383.58,516.75 385.50,515.00 C387.42,513.25 388.00,512.08 388.50,511.50" fill="none" stroke="#111" stroke-width="1.1"/>
<path d="M390.60,508.40 L389.91,513.99 L385.62,511.05Z" fill="#111"/>
<text stroke="#3a9ad8" stroke-width="0.2" x="298.2" y="538.3" font-size="9.6" fill="#3a9ad8" textLength="100.8" lengthAdjust="spacingAndGlyphs"><tspan>? </tspan><tspan font-weight="bold">glut</tspan><tspan> from platelet EVs</tspan></text>
<path d="M465.6,387.2 L512.4,547.2 L466.2,547.2 Z" fill="url(#glu)" stroke="#1c2cff" stroke-width="1.1"/>
<text transform="translate(479.4,540.2) rotate(-90)" font-size="9.6" fill="#1f4f93" textLength="83" lengthAdjust="spacingAndGlyphs">Glutamate gradient</text>
<rect x="0.5" y="0.5" width="519" height="554" fill="none" stroke="#000" stroke-width="1.2"/>
</svg></body></html>
